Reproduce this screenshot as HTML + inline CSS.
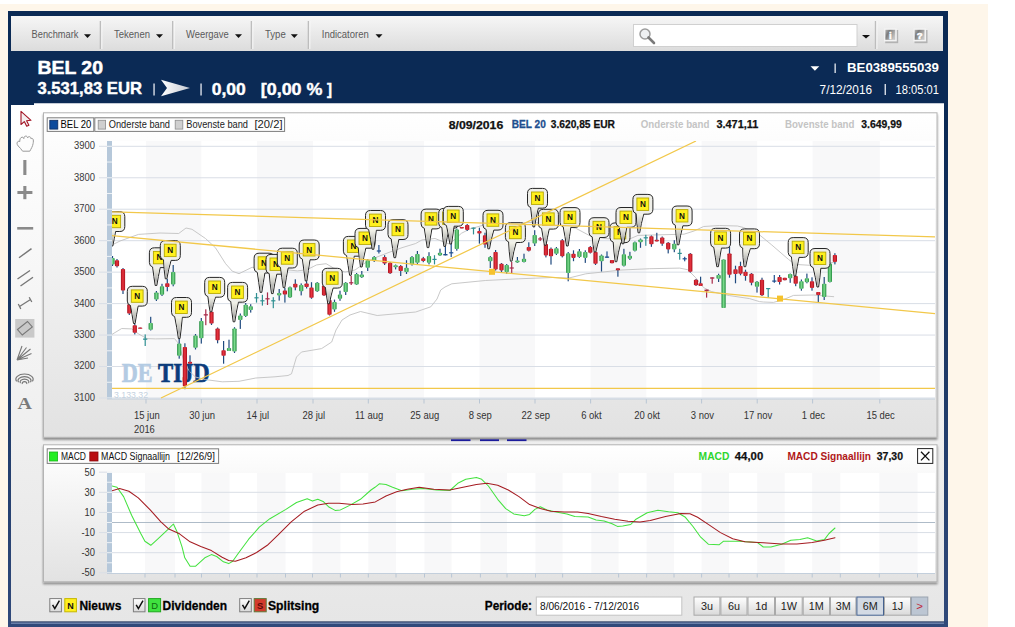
<!DOCTYPE html>
<html><head><meta charset="utf-8"><title>BEL 20</title>
<style>
html,body{margin:0;padding:0;background:#fff;overflow:hidden;}
body{width:1015px;height:627px;font-family:"Liberation Sans",sans-serif;}
svg{display:block;position:absolute;left:0;top:0;}
</style></head><body>
<svg width="1015" height="627" viewBox="0 0 1015 627">
<defs>
<linearGradient id="frame" x1="0" y1="0" x2="0" y2="1"><stop offset="0" stop-color="#0b2a55"/><stop offset="0.18" stop-color="#0b2a55"/><stop offset="1" stop-color="#30497a"/></linearGradient>
<linearGradient id="tb" x1="0" y1="0" x2="0" y2="1"><stop offset="0" stop-color="#f6f6f6"/><stop offset="1" stop-color="#dcdcdc"/></linearGradient>
<linearGradient id="outer" x1="0" y1="0" x2="0" y2="1"><stop offset="0" stop-color="#ffffff"/><stop offset="1" stop-color="#e6e6e6"/></linearGradient>
<linearGradient id="panel" x1="0" y1="0" x2="0" y2="1"><stop offset="0" stop-color="#ffffff"/><stop offset="0.15" stop-color="#fbfbfb"/><stop offset="1" stop-color="#e2e2e2"/></linearGradient>
<linearGradient id="gr" x1="0" y1="0" x2="1" y2="0"><stop offset="0" stop-color="#1f8a3c"/><stop offset="0.5" stop-color="#7ddc8e"/><stop offset="1" stop-color="#1f8a3c"/></linearGradient>
<linearGradient id="rd" x1="0" y1="0" x2="1" y2="0"><stop offset="0" stop-color="#a80f1c"/><stop offset="0.5" stop-color="#e8343f"/><stop offset="1" stop-color="#a80f1c"/></linearGradient>
<linearGradient id="btn" x1="0" y1="0" x2="0" y2="1"><stop offset="0" stop-color="#ffffff"/><stop offset="1" stop-color="#d9d9d9"/></linearGradient>
<linearGradient id="tail" x1="0" y1="0" x2="0" y2="1"><stop offset="0" stop-color="#f4f4ea"/><stop offset="1" stop-color="#9a9a9a"/></linearGradient>
<linearGradient id="ibtn" x1="0" y1="0" x2="1" y2="0.6"><stop offset="0" stop-color="#b4b4b4"/><stop offset="0.35" stop-color="#7c7c7c"/><stop offset="1" stop-color="#c6c6c6"/></linearGradient>
<linearGradient id="arrow" x1="0" y1="0" x2="1" y2="0"><stop offset="0" stop-color="#ffffff"/><stop offset="1" stop-color="#c8ccd4"/></linearGradient>
<clipPath id="plotclip"><rect x="112" y="141" width="823" height="258"/></clipPath>
<clipPath id="macdclip"><rect x="112" y="473" width="823" height="100"/></clipPath>
<filter id="sh" x="-5%" y="-5%" width="110%" height="115%"><feGaussianBlur in="SourceAlpha" stdDeviation="1.0"/><feOffset dx="0.3" dy="1.8"/><feComponentTransfer><feFuncA type="linear" slope="0.42"/></feComponentTransfer><feMerge><feMergeNode/><feMergeNode in="SourceGraphic"/></feMerge></filter>
</defs>

<rect x="0" y="0" width="1015" height="627" fill="#ffffff"/>
<rect x="0" y="4" width="988" height="623" fill="#fef6ea"/>
<rect x="8" y="11" width="940" height="616" fill="url(#frame)"/>
<rect x="11" y="16" width="932" height="35" fill="url(#tb)"/>
<rect x="99.7" y="21" width="1.6" height="28" fill="#bdbdbd"/>
<rect x="101.3" y="21" width="1" height="28" fill="#fafafa"/>
<rect x="172.0" y="21" width="1.6" height="28" fill="#bdbdbd"/>
<rect x="173.6" y="21" width="1" height="28" fill="#fafafa"/>
<rect x="250.7" y="21" width="1.6" height="28" fill="#bdbdbd"/>
<rect x="252.3" y="21" width="1" height="28" fill="#fafafa"/>
<rect x="307.7" y="21" width="1.6" height="28" fill="#bdbdbd"/>
<rect x="309.3" y="21" width="1" height="28" fill="#fafafa"/>
<rect x="874.8" y="21" width="1.6" height="28" fill="#bdbdbd"/>
<rect x="876.4" y="21" width="1" height="28" fill="#fafafa"/>
<text x="31.60" y="38.00" font-size="10.8" fill="#5a5a5a" font-weight="normal" text-anchor="start" style="font-family:'Liberation Sans',sans-serif" textLength="46.80" lengthAdjust="spacingAndGlyphs" >Benchmark</text>
<path d="M84.0,34.3 h7 l-3.5,3.6 z" fill="#111"/>
<text x="114.00" y="38.00" font-size="10.8" fill="#5a5a5a" font-weight="normal" text-anchor="start" style="font-family:'Liberation Sans',sans-serif" textLength="36.00" lengthAdjust="spacingAndGlyphs" >Tekenen</text>
<path d="M156.0,34.3 h7 l-3.5,3.6 z" fill="#111"/>
<text x="186.00" y="38.00" font-size="10.8" fill="#5a5a5a" font-weight="normal" text-anchor="start" style="font-family:'Liberation Sans',sans-serif" textLength="42.75" lengthAdjust="spacingAndGlyphs" >Weergave</text>
<path d="M235.0,34.3 h7 l-3.5,3.6 z" fill="#111"/>
<text x="265.00" y="38.00" font-size="10.8" fill="#5a5a5a" font-weight="normal" text-anchor="start" style="font-family:'Liberation Sans',sans-serif" textLength="20.75" lengthAdjust="spacingAndGlyphs" >Type</text>
<path d="M290.8,34.3 h7 l-3.5,3.6 z" fill="#111"/>
<text x="321.75" y="38.00" font-size="10.8" fill="#5a5a5a" font-weight="normal" text-anchor="start" style="font-family:'Liberation Sans',sans-serif" textLength="47.00" lengthAdjust="spacingAndGlyphs" >Indicatoren</text>
<path d="M375.5,34.3 h7 l-3.5,3.6 z" fill="#111"/>
<rect x="633.5" y="24.5" width="223.5" height="22" fill="#ffffff" stroke="#d0d0d0" stroke-width="1"/>
<g transform="translate(639,28)"><circle cx="6" cy="6" r="5" fill="#eef0f2" stroke="#9c9c9c" stroke-width="1.5"/><path d="M9.5,9.5 L15,15" stroke="#7a7a7a" stroke-width="2.6" stroke-linecap="round"/></g>
<path d="M862,35 h8 l-4,3.6 z" fill="#111"/>
<rect x="885.2" y="30" width="13" height="13.2" fill="#b2b2b2"/>
<rect x="884" y="28.4" width="12.8" height="13" fill="#f3f3f3"/>
<rect x="885.4" y="29.8" width="9.8" height="10" fill="url(#ibtn)"/>
<text x="890.40" y="38.90" font-size="9.6" fill="#ffffff" font-weight="bold" text-anchor="middle" style="font-family:'Liberation Sans',sans-serif" stroke="#fff" stroke-width="0.5">i</text>
<rect x="914.5" y="30" width="13" height="13.2" fill="#b2b2b2"/>
<rect x="913.3" y="28.4" width="12.8" height="13" fill="#f3f3f3"/>
<rect x="914.6999999999999" y="29.8" width="9.8" height="10" fill="url(#ibtn)"/>
<text x="919.70" y="38.90" font-size="9.6" fill="#ffffff" font-weight="bold" text-anchor="middle" style="font-family:'Liberation Sans',sans-serif" stroke="#fff" stroke-width="0.5">?</text>
<text x="37.40" y="74.40" font-size="18.3" fill="#ffffff" font-weight="bold" text-anchor="start" style="font-family:'Liberation Sans',sans-serif" textLength="65.60" lengthAdjust="spacingAndGlyphs" stroke="#fff" stroke-width="0.5">BEL 20</text>
<text x="37.40" y="94.40" font-size="15.7" fill="#ffffff" font-weight="bold" text-anchor="start" style="font-family:'Liberation Sans',sans-serif" textLength="104.60" lengthAdjust="spacingAndGlyphs" stroke="#fff" stroke-width="0.4">3.531,83 EUR</text>
<rect x="153.4" y="83.5" width="1.3" height="12" fill="#e8ecf2"/>
<path d="M161,79.8 L190,88 L161,96.2 L167,88 Z" fill="url(#arrow)"/>
<rect x="200.4" y="83.5" width="1.3" height="12" fill="#e8ecf2"/>
<text x="211.75" y="94.60" font-size="15.7" fill="#ffffff" font-weight="bold" text-anchor="start" style="font-family:'Liberation Sans',sans-serif" textLength="34.00" lengthAdjust="spacingAndGlyphs" stroke="#fff" stroke-width="0.4">0,00</text>
<text x="260.75" y="94.60" font-size="15.7" fill="#ffffff" font-weight="bold" text-anchor="start" style="font-family:'Liberation Sans',sans-serif" textLength="61.75" lengthAdjust="spacingAndGlyphs" stroke="#fff" stroke-width="0.4">[0,00 %</text>
<text x="327.00" y="94.60" font-size="15.7" fill="#ffffff" font-weight="bold" text-anchor="start" style="font-family:'Liberation Sans',sans-serif" textLength="5.00" lengthAdjust="spacingAndGlyphs" stroke="#fff" stroke-width="0.4">]</text>
<path d="M810.5,66.3 h8.8 l-4.4,4.4 z" fill="#ffffff"/>
<rect x="834.5" y="63.5" width="1.3" height="9.5" fill="#e8ecf2"/>
<text x="847.00" y="72.20" font-size="12" fill="#ffffff" font-weight="bold" text-anchor="start" style="font-family:'Liberation Sans',sans-serif" textLength="92.00" lengthAdjust="spacingAndGlyphs" >BE0389555039</text>
<text x="819.60" y="93.60" font-size="12.4" fill="#ffffff" font-weight="normal" text-anchor="start" style="font-family:'Liberation Sans',sans-serif" textLength="52.40" lengthAdjust="spacingAndGlyphs" >7/12/2016</text>
<rect x="884.6" y="84" width="1.3" height="11" fill="#e8ecf2"/>
<text x="895.60" y="93.60" font-size="12.4" fill="#ffffff" font-weight="normal" text-anchor="start" style="font-family:'Liberation Sans',sans-serif" textLength="43.40" lengthAdjust="spacingAndGlyphs" >18:05:01</text>
<path d="M11,105 H34 V103.3 H944 V622 H11 Z" fill="url(#outer)"/>
<rect x="11" y="621.4" width="933" height="1.2" fill="#1b2f57"/>
<rect x="11" y="622.6" width="933" height="1" fill="#8fa3c8"/>
<path d="M21,111.3 L21,124.5 L24.3,121.6 L26.7,126.3 L28.9,125.2 L26.6,120.7 L31,120.3 Z" fill="#f4f0f0" stroke="#a31525" stroke-width="1.1" stroke-linejoin="round"/>
<path d="M17,143.2 C17,141.6 18.8,140.6 19.8,141.6 C19.6,139.4 20.4,137.4 22,137.2 C23,137.1 23.6,137.8 23.8,138.6 C23.9,137 24.6,136.1 25.8,136.1 C26.9,136.1 27.5,136.9 27.6,138 C27.9,137 28.7,136.5 29.6,136.7 C30.6,136.9 31,137.8 31,138.9 C31.5,138.3 32.4,138.3 32.9,138.9 C33.6,139.8 33.4,142 33.1,143.6 C32.6,146.4 31.2,148.6 29.8,151.2 L22.6,151.2 C21.4,149 19.6,147.6 18.2,146 C17.4,145 17,144.2 17,143.2 Z" fill="#fdfdfd" stroke="#9a9a9a" stroke-width="1" stroke-linejoin="round"/>
<rect x="23.3" y="160" width="3.1" height="15" fill="#8a8a8a"/>
<rect x="17.4" y="191" width="15" height="3" fill="#8a8a8a"/><rect x="23.3" y="186" width="3.1" height="13.2" fill="#8a8a8a"/>
<rect x="17.2" y="227" width="16" height="2.6" fill="#8a8a8a"/>
<path d="M19,257.8 L31.5,248.6" stroke="#777" stroke-width="1.4"/>
<path d="M17.5,279 L30,270.5 M20.5,286 L33,277.2" stroke="#777" stroke-width="1.4"/>
<path d="M19.5,306.5 L30.5,299.5 M18.3,304 L20.8,309 M29.2,297.2 L31.8,302" stroke="#777" stroke-width="1.3"/>
<rect x="15.2" y="319" width="19.2" height="18.6" fill="#c9c9c9"/>
<path d="M17.5,329.5 L27.5,321.5 L32.3,327 L22.3,335 Z" fill="none" stroke="#777" stroke-width="1.1"/>
<path d="M17,360 L22,346 M17,360 L26.5,347.5 M17,360 L30.5,349 M17,360 L31.5,353.5 M17,360 L28,358" stroke="#777" stroke-width="1.1"/>
<path d="M16.6,381.3 A8.6,5.2 0 1 1 32.4,381.3" fill="none" stroke="#777" stroke-width="1.15"/>
<path d="M18.5,382.2 A6.5,4.0 0 1 1 30.5,382.2" fill="none" stroke="#777" stroke-width="1.15"/>
<path d="M20.5,383.2 A4.4,2.9 0 1 1 28.5,383.2" fill="none" stroke="#777" stroke-width="1.15"/>
<path d="M22.4,384.0 A2.3,1.7 0 1 1 26.6,384.0" fill="none" stroke="#777" stroke-width="1.15"/>
<text x="17.60" y="408.80" font-size="17.6" fill="#7a7a7a" font-weight="bold" text-anchor="start" style="font-family:'Liberation Serif',sans-serif" textLength="14.40" lengthAdjust="spacingAndGlyphs" >A</text>
<g filter="url(#sh)"><rect x="43.5" y="112.8" width="893.5" height="324.5" fill="url(#panel)" stroke="#b4b4b4" stroke-width="1"/></g>
<rect x="112" y="141" width="823" height="258" fill="#ffffff"/>
<rect x="146" y="141" width="55.3" height="258" fill="#f8f8f9"/>
<rect x="257" y="141" width="56.0" height="258" fill="#f8f8f9"/>
<rect x="368.3" y="141" width="55.7" height="258" fill="#f8f8f9"/>
<rect x="479.5" y="141" width="55.5" height="258" fill="#f8f8f9"/>
<rect x="590.6" y="141" width="55.7" height="258" fill="#f8f8f9"/>
<rect x="701.6" y="141" width="55.6" height="258" fill="#f8f8f9"/>
<rect x="812.6" y="141" width="67.2" height="258" fill="#f8f8f9"/>
<rect x="99" y="397.48" width="836" height="1" fill="#d9dee6"/>
<rect x="99" y="366.02" width="836" height="1" fill="#d9dee6"/>
<rect x="99" y="334.56" width="836" height="1" fill="#d9dee6"/>
<rect x="99" y="303.10" width="836" height="1" fill="#d9dee6"/>
<rect x="99" y="271.64" width="836" height="1" fill="#d9dee6"/>
<rect x="99" y="240.18" width="836" height="1" fill="#d9dee6"/>
<rect x="99" y="208.72" width="836" height="1" fill="#d9dee6"/>
<rect x="99" y="177.26" width="836" height="1" fill="#d9dee6"/>
<rect x="99" y="145.80" width="836" height="1" fill="#d9dee6"/>
<rect x="107" y="141" width="5" height="258" fill="#b6c8da"/>
<rect x="107" y="397.48" width="5" height="1" fill="#eef2f6"/>
<rect x="107" y="381.75" width="5" height="1" fill="#eef2f6"/>
<rect x="107" y="366.02" width="5" height="1" fill="#eef2f6"/>
<rect x="107" y="350.29" width="5" height="1" fill="#eef2f6"/>
<rect x="107" y="334.56" width="5" height="1" fill="#eef2f6"/>
<rect x="107" y="318.83" width="5" height="1" fill="#eef2f6"/>
<rect x="107" y="303.10" width="5" height="1" fill="#eef2f6"/>
<rect x="107" y="287.37" width="5" height="1" fill="#eef2f6"/>
<rect x="107" y="271.64" width="5" height="1" fill="#eef2f6"/>
<rect x="107" y="255.91" width="5" height="1" fill="#eef2f6"/>
<rect x="107" y="240.18" width="5" height="1" fill="#eef2f6"/>
<rect x="107" y="224.45" width="5" height="1" fill="#eef2f6"/>
<rect x="107" y="208.72" width="5" height="1" fill="#eef2f6"/>
<rect x="107" y="192.99" width="5" height="1" fill="#eef2f6"/>
<rect x="107" y="177.26" width="5" height="1" fill="#eef2f6"/>
<rect x="107" y="161.53" width="5" height="1" fill="#eef2f6"/>
<rect x="107" y="145.80" width="5" height="1" fill="#eef2f6"/>
<rect x="107" y="398.5" width="828" height="1" fill="#c3cfdc"/>
<rect x="145.5" y="399" width="1" height="4.5" fill="#b9c6d4"/>
<text x="0.00" y="0.00" font-size="10.7" fill="#333" font-weight="normal" text-anchor="middle" style="font-family:'Liberation Sans',sans-serif"  transform="translate(146.80,418.60) scale(0.885,1)">15 jun</text>
<rect x="200.8" y="399" width="1" height="4.5" fill="#b9c6d4"/>
<text x="0.00" y="0.00" font-size="10.7" fill="#333" font-weight="normal" text-anchor="middle" style="font-family:'Liberation Sans',sans-serif"  transform="translate(202.10,418.60) scale(0.885,1)">30 jun</text>
<rect x="256.5" y="399" width="1" height="4.5" fill="#b9c6d4"/>
<text x="0.00" y="0.00" font-size="10.7" fill="#333" font-weight="normal" text-anchor="middle" style="font-family:'Liberation Sans',sans-serif"  transform="translate(257.80,418.60) scale(0.885,1)">14 jul</text>
<rect x="312.5" y="399" width="1" height="4.5" fill="#b9c6d4"/>
<text x="0.00" y="0.00" font-size="10.7" fill="#333" font-weight="normal" text-anchor="middle" style="font-family:'Liberation Sans',sans-serif"  transform="translate(313.80,418.60) scale(0.885,1)">28 jul</text>
<rect x="367.8" y="399" width="1" height="4.5" fill="#b9c6d4"/>
<text x="0.00" y="0.00" font-size="10.7" fill="#333" font-weight="normal" text-anchor="middle" style="font-family:'Liberation Sans',sans-serif"  transform="translate(369.10,418.60) scale(0.885,1)">11 aug</text>
<rect x="423.5" y="399" width="1" height="4.5" fill="#b9c6d4"/>
<text x="0.00" y="0.00" font-size="10.7" fill="#333" font-weight="normal" text-anchor="middle" style="font-family:'Liberation Sans',sans-serif"  transform="translate(424.80,418.60) scale(0.885,1)">25 aug</text>
<rect x="479.0" y="399" width="1" height="4.5" fill="#b9c6d4"/>
<text x="0.00" y="0.00" font-size="10.7" fill="#333" font-weight="normal" text-anchor="middle" style="font-family:'Liberation Sans',sans-serif"  transform="translate(480.30,418.60) scale(0.885,1)">8 sep</text>
<rect x="534.5" y="399" width="1" height="4.5" fill="#b9c6d4"/>
<text x="0.00" y="0.00" font-size="10.7" fill="#333" font-weight="normal" text-anchor="middle" style="font-family:'Liberation Sans',sans-serif"  transform="translate(535.80,418.60) scale(0.885,1)">22 sep</text>
<rect x="590.1" y="399" width="1" height="4.5" fill="#b9c6d4"/>
<text x="0.00" y="0.00" font-size="10.7" fill="#333" font-weight="normal" text-anchor="middle" style="font-family:'Liberation Sans',sans-serif"  transform="translate(591.40,418.60) scale(0.885,1)">6 okt</text>
<rect x="645.8" y="399" width="1" height="4.5" fill="#b9c6d4"/>
<text x="0.00" y="0.00" font-size="10.7" fill="#333" font-weight="normal" text-anchor="middle" style="font-family:'Liberation Sans',sans-serif"  transform="translate(647.10,418.60) scale(0.885,1)">20 okt</text>
<rect x="701.1" y="399" width="1" height="4.5" fill="#b9c6d4"/>
<text x="0.00" y="0.00" font-size="10.7" fill="#333" font-weight="normal" text-anchor="middle" style="font-family:'Liberation Sans',sans-serif"  transform="translate(702.40,418.60) scale(0.885,1)">3 nov</text>
<rect x="756.7" y="399" width="1" height="4.5" fill="#b9c6d4"/>
<text x="0.00" y="0.00" font-size="10.7" fill="#333" font-weight="normal" text-anchor="middle" style="font-family:'Liberation Sans',sans-serif"  transform="translate(758.00,418.60) scale(0.885,1)">17 nov</text>
<rect x="812.1" y="399" width="1" height="4.5" fill="#b9c6d4"/>
<text x="0.00" y="0.00" font-size="10.7" fill="#333" font-weight="normal" text-anchor="middle" style="font-family:'Liberation Sans',sans-serif"  transform="translate(813.40,418.60) scale(0.885,1)">1 dec</text>
<rect x="879.3" y="399" width="1" height="4.5" fill="#b9c6d4"/>
<text x="0.00" y="0.00" font-size="10.7" fill="#333" font-weight="normal" text-anchor="middle" style="font-family:'Liberation Sans',sans-serif"  transform="translate(880.60,418.60) scale(0.885,1)">15 dec</text>
<text x="134.00" y="432.60" font-size="10.4" fill="#333" font-weight="normal" text-anchor="start" style="font-family:'Liberation Sans',sans-serif" textLength="20.80" lengthAdjust="spacingAndGlyphs" >2016</text>
<text x="74.00" y="400.88" font-size="10.1" fill="#3a3a3a" font-weight="normal" text-anchor="start" style="font-family:'Liberation Sans',sans-serif" textLength="21.00" lengthAdjust="spacingAndGlyphs" >3100</text>
<text x="74.00" y="369.42" font-size="10.1" fill="#3a3a3a" font-weight="normal" text-anchor="start" style="font-family:'Liberation Sans',sans-serif" textLength="21.00" lengthAdjust="spacingAndGlyphs" >3200</text>
<text x="74.00" y="337.96" font-size="10.1" fill="#3a3a3a" font-weight="normal" text-anchor="start" style="font-family:'Liberation Sans',sans-serif" textLength="21.00" lengthAdjust="spacingAndGlyphs" >3300</text>
<text x="74.00" y="306.50" font-size="10.1" fill="#3a3a3a" font-weight="normal" text-anchor="start" style="font-family:'Liberation Sans',sans-serif" textLength="21.00" lengthAdjust="spacingAndGlyphs" >3400</text>
<text x="74.00" y="275.04" font-size="10.1" fill="#3a3a3a" font-weight="normal" text-anchor="start" style="font-family:'Liberation Sans',sans-serif" textLength="21.00" lengthAdjust="spacingAndGlyphs" >3500</text>
<text x="74.00" y="243.58" font-size="10.1" fill="#3a3a3a" font-weight="normal" text-anchor="start" style="font-family:'Liberation Sans',sans-serif" textLength="21.00" lengthAdjust="spacingAndGlyphs" >3600</text>
<text x="74.00" y="212.12" font-size="10.1" fill="#3a3a3a" font-weight="normal" text-anchor="start" style="font-family:'Liberation Sans',sans-serif" textLength="21.00" lengthAdjust="spacingAndGlyphs" >3700</text>
<text x="74.00" y="180.66" font-size="10.1" fill="#3a3a3a" font-weight="normal" text-anchor="start" style="font-family:'Liberation Sans',sans-serif" textLength="21.00" lengthAdjust="spacingAndGlyphs" >3800</text>
<text x="74.00" y="149.20" font-size="10.1" fill="#3a3a3a" font-weight="normal" text-anchor="start" style="font-family:'Liberation Sans',sans-serif" textLength="21.00" lengthAdjust="spacingAndGlyphs" >3900</text>
<rect x="47.2" y="117.8" width="46.6" height="13.6" fill="#fdfdfd" stroke="#7d7d7d" stroke-width="1"/>
<rect x="94.8" y="117.8" width="189.8" height="13.6" fill="#fdfdfd" stroke="#7d7d7d" stroke-width="1"/>
<rect x="49.8" y="120.3" width="8" height="8.8" fill="#0d4a9c" stroke="#0a2a60" stroke-width="0.8"/>
<rect x="98.2" y="120.3" width="7.4" height="8.8" fill="#cfcfcf" stroke="#8d8d8d" stroke-width="0.8"/>
<rect x="175.2" y="120.3" width="7.6" height="8.8" fill="#cfcfcf" stroke="#8d8d8d" stroke-width="0.8"/>
<text x="60.50" y="128.40" font-size="10.4" fill="#000" font-weight="normal" text-anchor="start" style="font-family:'Liberation Sans',sans-serif" textLength="30.75" lengthAdjust="spacingAndGlyphs" >BEL 20</text>
<text x="108.75" y="128.40" font-size="10.4" fill="#222" font-weight="normal" text-anchor="start" style="font-family:'Liberation Sans',sans-serif" textLength="61.25" lengthAdjust="spacingAndGlyphs" >Onderste band</text>
<text x="186.25" y="128.40" font-size="10.4" fill="#222" font-weight="normal" text-anchor="start" style="font-family:'Liberation Sans',sans-serif" textLength="61.75" lengthAdjust="spacingAndGlyphs" >Bovenste band</text>
<text x="254.50" y="128.40" font-size="10.4" fill="#222" font-weight="normal" text-anchor="start" style="font-family:'Liberation Sans',sans-serif" textLength="28.00" lengthAdjust="spacingAndGlyphs" >[20/2]</text>
<text x="448.75" y="129.20" font-size="11" fill="#111" font-weight="bold" text-anchor="start" style="font-family:'Liberation Sans',sans-serif" textLength="54.50" lengthAdjust="spacingAndGlyphs" stroke="#111" stroke-width="0.25">8/09/2016</text>
<text x="511.75" y="128.20" font-size="11" fill="#1d4f8f" font-weight="bold" text-anchor="start" style="font-family:'Liberation Sans',sans-serif" textLength="34.00" lengthAdjust="spacingAndGlyphs" stroke="#1d4f8f" stroke-width="0.3">BEL 20</text>
<text x="550.75" y="128.20" font-size="11" fill="#111" font-weight="bold" text-anchor="start" style="font-family:'Liberation Sans',sans-serif" textLength="64.25" lengthAdjust="spacingAndGlyphs" stroke="#111" stroke-width="0.25">3.620,85 EUR</text>
<text x="640.70" y="128.20" font-size="11" fill="#c4c4c4" font-weight="bold" text-anchor="start" style="font-family:'Liberation Sans',sans-serif" textLength="68.70" lengthAdjust="spacingAndGlyphs" >Onderste band</text>
<text x="716.40" y="128.20" font-size="11" fill="#111" font-weight="bold" text-anchor="start" style="font-family:'Liberation Sans',sans-serif" textLength="41.90" lengthAdjust="spacingAndGlyphs" stroke="#111" stroke-width="0.25">3.471,11</text>
<text x="784.90" y="128.20" font-size="11" fill="#c4c4c4" font-weight="bold" text-anchor="start" style="font-family:'Liberation Sans',sans-serif" textLength="69.60" lengthAdjust="spacingAndGlyphs" >Bovenste band</text>
<text x="861.20" y="128.20" font-size="11" fill="#111" font-weight="bold" text-anchor="start" style="font-family:'Liberation Sans',sans-serif" textLength="40.60" lengthAdjust="spacingAndGlyphs" stroke="#111" stroke-width="0.25">3.649,99</text>
<g clip-path="url(#plotclip)">
<text x="121.70" y="381.80" font-size="28" fill="#b3cbe3" font-weight="bold" text-anchor="start" style="font-family:'Liberation Serif',sans-serif" textLength="30.80" lengthAdjust="spacingAndGlyphs" stroke="#b3cbe3" stroke-width="0.7">DE</text>
<text x="158.00" y="381.80" font-size="28" fill="#0b3c7c" font-weight="bold" text-anchor="start" style="font-family:'Liberation Serif',sans-serif" textLength="51.70" lengthAdjust="spacingAndGlyphs" stroke="#0b3c7c" stroke-width="0.7">TIJD</text>
<text x="114.00" y="397.60" font-size="9.5" fill="#c5d2e0" font-weight="normal" text-anchor="start" style="font-family:'Liberation Sans',sans-serif" textLength="34.00" lengthAdjust="spacingAndGlyphs" >3.133,32</text>
<polyline points="112.0,245.0 120.0,241.0 138.5,234.4 160.0,233.0 178.7,233.5 186.0,228.0 192.0,229.3 205.5,238.5 215.5,247.8 225.6,263.7 232.3,271.2 239.0,273.7 252.0,267.3 270.0,268.0 297.4,270.9 307.0,269.7 316.6,264.9 326.1,263.7 333.3,267.9 345.0,272.0 355.0,270.0 365.0,263.0 377.0,257.0 390.0,252.0 402.0,247.7 415.7,243.5 422.0,239.9 435.0,238.5 445.9,242.8 449.5,244.0 461.4,233.3 469.8,229.0 482.0,225.5 500.0,224.0 530.0,222.5 550.0,223.5 575.7,228.2 589.0,235.3 605.0,238.6 610.0,238.8 630.0,238.8 638.0,235.4 660.0,234.8 684.0,234.2 694.0,231.0 703.6,226.5 719.6,225.5 737.5,226.0 743.5,227.5 759.4,234.8 771.8,245.0 788.5,259.4 795.0,264.4 810.0,265.3 836.0,262.0" fill="none" stroke="#c2c2c2" stroke-width="0.9" stroke-linejoin="round" stroke-linecap="round" />
<polyline points="112.0,334.4 121.7,328.5 131.8,328.9 138.5,333.9 146.9,338.6 155.3,338.9 174.5,338.6 178.7,343.6 183.7,360.3 188.7,370.4 195.4,377.0 205.5,379.6 222.2,381.8 239.0,381.3 255.8,378.0 275.0,376.8 288.0,375.5 291.5,373.8 296.5,357.0 301.5,352.0 321.6,348.6 331.7,342.0 336.0,330.0 342.0,320.0 350.0,315.0 360.5,311.5 377.2,315.5 415.7,312.0 430.8,306.8 437.0,299.0 440.7,290.0 445.0,287.0 451.8,283.8 485.3,280.5 518.8,278.8 552.3,277.5 569.0,278.0 585.8,273.8 605.0,271.8 620.0,270.1 649.8,268.7 679.7,268.1 687.7,269.7 695.7,277.7 703.6,287.6 711.6,291.6 729.5,295.6 749.5,298.6 759.4,301.6 763.4,302.0 773.4,302.4 783.5,299.6 793.5,295.4 813.6,295.0 833.7,296.7" fill="none" stroke="#c2c2c2" stroke-width="0.9" stroke-linejoin="round" stroke-linecap="round" />
<rect x="111.9" y="256.0" width="1.2" height="10.0" fill="#1f4a7f"/>
<rect x="110.4" y="258.0" width="4.2" height="6.5" rx="0.8" fill="url(#gr)"/>
<rect x="116.4" y="259.0" width="1.2" height="8.5" fill="#1f4a7f"/>
<rect x="114.9" y="260.3" width="4.2" height="5.9" rx="0.8" fill="url(#rd)"/>
<rect x="122.4" y="268.0" width="1.2" height="26.0" fill="#1f4a7f"/>
<rect x="120.9" y="269.0" width="4.2" height="21.5" rx="0.8" fill="url(#rd)"/>
<rect x="128.7" y="303.0" width="1.2" height="12.0" fill="#1f4a7f"/>
<rect x="127.2" y="304.2" width="4.2" height="9.3" rx="0.8" fill="url(#rd)"/>
<rect x="134.2" y="323.5" width="1.2" height="10.9" fill="#1f4a7f"/>
<rect x="132.7" y="325.2" width="4.2" height="7.5" rx="0.8" fill="url(#rd)"/>
<rect x="139.6" y="327.5" width="1.2" height="1.3" fill="#1f4a7f"/>
<rect x="138.1" y="327.5" width="4.2" height="1.3" rx="0.8" fill="url(#rd)"/>
<rect x="144.6" y="334.4" width="1.2" height="11.6" fill="#2f8f92"/>
<rect x="143.1" y="338.5" width="4.2" height="1.3" fill="#2f8f92"/>
<rect x="150.1" y="316.8" width="1.2" height="13.7" fill="#1f4a7f"/>
<rect x="148.6" y="323.0" width="4.2" height="6.7" rx="0.8" fill="url(#gr)"/>
<rect x="155.8" y="291.0" width="1.2" height="10.0" fill="#1f4a7f"/>
<rect x="154.3" y="292.5" width="4.2" height="7.0" rx="0.8" fill="url(#gr)"/>
<rect x="161.4" y="283.8" width="1.2" height="12.2" fill="#1f4a7f"/>
<rect x="159.9" y="286.3" width="4.2" height="8.4" rx="0.8" fill="url(#gr)"/>
<rect x="166.7" y="278.8" width="1.2" height="12.5" fill="#1f4a7f"/>
<rect x="165.2" y="283.3" width="4.2" height="3.7" rx="0.8" fill="url(#rd)"/>
<rect x="172.6" y="265.0" width="1.2" height="21.3" fill="#1f4a7f"/>
<rect x="171.1" y="272.0" width="4.2" height="12.6" rx="0.8" fill="url(#gr)"/>
<rect x="178.6" y="338.6" width="1.2" height="20.1" fill="#1f4a7f"/>
<rect x="177.1" y="343.6" width="4.2" height="12.1" rx="0.8" fill="url(#gr)"/>
<rect x="184.3" y="343.3" width="1.2" height="45.9" fill="#1f4a7f"/>
<rect x="182.8" y="347.0" width="4.2" height="39.3" rx="0.8" fill="url(#rd)"/>
<rect x="189.4" y="355.3" width="1.2" height="16.7" fill="#1f4a7f"/>
<rect x="187.9" y="361.7" width="4.2" height="2.0" rx="0.8" fill="url(#rd)"/>
<rect x="194.9" y="334.0" width="1.2" height="15.5" fill="#1f4a7f"/>
<rect x="193.4" y="335.6" width="4.2" height="12.2" rx="0.8" fill="url(#gr)"/>
<rect x="200.7" y="318.0" width="1.2" height="25.6" fill="#1f4a7f"/>
<rect x="199.2" y="321.0" width="4.2" height="17.2" rx="0.8" fill="url(#gr)"/>
<rect x="205.2" y="309.3" width="1.2" height="15.9" fill="#a82a4a"/>
<rect x="203.7" y="314.2" width="4.2" height="1.3" fill="#a82a4a"/>
<rect x="210.9" y="310.5" width="1.2" height="14.5" fill="#1f4a7f"/>
<rect x="209.4" y="311.8" width="4.2" height="11.7" rx="0.8" fill="url(#rd)"/>
<rect x="217.0" y="327.5" width="1.2" height="15.8" fill="#1f4a7f"/>
<rect x="215.5" y="328.5" width="4.2" height="11.8" rx="0.8" fill="url(#rd)"/>
<rect x="223.0" y="341.0" width="1.2" height="22.7" fill="#1f4a7f"/>
<rect x="221.5" y="350.3" width="4.2" height="5.5" rx="0.8" fill="url(#rd)"/>
<rect x="228.4" y="339.7" width="1.2" height="11.3" fill="#1f4a7f"/>
<rect x="226.9" y="348.0" width="4.2" height="3.0" rx="0.8" fill="url(#gr)"/>
<rect x="233.9" y="327.2" width="1.2" height="25.8" fill="#1f4a7f"/>
<rect x="232.4" y="328.5" width="4.2" height="23.1" rx="0.8" fill="url(#gr)"/>
<rect x="239.7" y="313.5" width="1.2" height="15.4" fill="#1f4a7f"/>
<rect x="238.2" y="315.5" width="4.2" height="4.5" rx="0.8" fill="url(#gr)"/>
<rect x="245.1" y="303.0" width="1.2" height="14.0" fill="#1f4a7f"/>
<rect x="243.6" y="304.7" width="4.2" height="11.3" rx="0.8" fill="url(#gr)"/>
<rect x="250.1" y="304.2" width="1.2" height="8.4" fill="#1f4a7f"/>
<rect x="248.6" y="306.2" width="4.2" height="3.8" rx="0.8" fill="url(#gr)"/>
<rect x="255.9" y="293.0" width="1.2" height="9.6" fill="#2f8f92"/>
<rect x="254.4" y="297.2" width="4.2" height="1.2" fill="#2f8f92"/>
<rect x="261.8" y="294.8" width="1.2" height="10.8" fill="#2f8f92"/>
<rect x="260.3" y="300.2" width="4.2" height="1.2" fill="#2f8f92"/>
<rect x="266.9" y="292.4" width="1.2" height="12.6" fill="#a82a4a"/>
<rect x="265.4" y="298.2" width="4.2" height="1.2" fill="#a82a4a"/>
<rect x="272.7" y="297.2" width="1.2" height="11.0" fill="#2f8f92"/>
<rect x="271.2" y="300.2" width="4.2" height="1.2" fill="#2f8f92"/>
<rect x="278.6" y="289.0" width="1.2" height="11.6" fill="#1f4a7f"/>
<rect x="277.1" y="293.0" width="4.2" height="2.4" rx="0.8" fill="url(#gr)"/>
<rect x="284.3" y="288.0" width="1.2" height="14.6" fill="#1f4a7f"/>
<rect x="282.8" y="290.6" width="4.2" height="4.0" rx="0.8" fill="url(#rd)"/>
<rect x="289.4" y="286.5" width="1.2" height="11.5" fill="#1f4a7f"/>
<rect x="287.9" y="287.3" width="4.2" height="10.1" rx="0.8" fill="url(#gr)"/>
<rect x="294.7" y="279.3" width="1.2" height="11.0" fill="#1f4a7f"/>
<rect x="293.2" y="283.8" width="4.2" height="3.8" rx="0.8" fill="url(#rd)"/>
<rect x="300.6" y="283.4" width="1.2" height="12.0" fill="#1f4a7f"/>
<rect x="299.1" y="285.0" width="4.2" height="6.2" rx="0.8" fill="url(#gr)"/>
<rect x="306.0" y="281.2" width="1.2" height="7.3" fill="#1f4a7f"/>
<rect x="304.5" y="283.4" width="4.2" height="3.6" rx="0.8" fill="url(#rd)"/>
<rect x="310.9" y="282.2" width="1.2" height="16.6" fill="#1f4a7f"/>
<rect x="309.4" y="287.6" width="4.2" height="10.2" rx="0.8" fill="url(#rd)"/>
<rect x="316.6" y="282.0" width="1.2" height="10.0" fill="#1f4a7f"/>
<rect x="315.1" y="282.8" width="4.2" height="8.4" rx="0.8" fill="url(#gr)"/>
<rect x="323.4" y="285.0" width="1.2" height="11.0" fill="#1f4a7f"/>
<rect x="321.9" y="285.8" width="4.2" height="9.6" rx="0.8" fill="url(#rd)"/>
<rect x="328.9" y="299.0" width="1.2" height="16.5" fill="#1f4a7f"/>
<rect x="327.4" y="300.0" width="4.2" height="14.7" rx="0.8" fill="url(#rd)"/>
<rect x="333.9" y="299.6" width="1.2" height="12.2" fill="#1f4a7f"/>
<rect x="332.4" y="302.0" width="4.2" height="7.6" rx="0.8" fill="url(#gr)"/>
<rect x="339.4" y="290.7" width="1.2" height="10.1" fill="#1f4a7f"/>
<rect x="337.9" y="294.6" width="4.2" height="4.2" rx="0.8" fill="url(#gr)"/>
<rect x="345.1" y="282.0" width="1.2" height="13.0" fill="#1f4a7f"/>
<rect x="343.6" y="282.8" width="4.2" height="9.2" rx="0.8" fill="url(#gr)"/>
<rect x="350.6" y="276.0" width="1.2" height="9.0" fill="#a82a4a"/>
<rect x="349.1" y="282.2" width="4.2" height="1.2" fill="#a82a4a"/>
<rect x="356.0" y="273.0" width="1.2" height="12.0" fill="#1f4a7f"/>
<rect x="354.5" y="274.0" width="4.2" height="10.5" rx="0.8" fill="url(#gr)"/>
<rect x="361.2" y="271.0" width="1.2" height="7.0" fill="#1f4a7f"/>
<rect x="359.7" y="274.5" width="4.2" height="2.8" rx="0.8" fill="url(#gr)"/>
<rect x="367.1" y="259.0" width="1.2" height="12.0" fill="#1f4a7f"/>
<rect x="365.6" y="260.2" width="4.2" height="7.6" rx="0.8" fill="url(#gr)"/>
<rect x="373.6" y="256.0" width="1.2" height="6.0" fill="#1f4a7f"/>
<rect x="372.1" y="256.9" width="4.2" height="4.1" rx="0.8" fill="url(#gr)"/>
<rect x="378.3" y="245.0" width="1.2" height="8.5" fill="#1f4f8f"/>
<rect x="376.8" y="250.4" width="4.2" height="1.2" fill="#1f4f8f"/>
<rect x="384.0" y="255.2" width="1.2" height="9.8" fill="#1f4a7f"/>
<rect x="382.5" y="256.9" width="4.2" height="6.7" rx="0.8" fill="url(#rd)"/>
<rect x="389.5" y="262.0" width="1.2" height="12.0" fill="#1f4a7f"/>
<rect x="388.0" y="262.7" width="4.2" height="10.6" rx="0.8" fill="url(#rd)"/>
<rect x="395.0" y="264.5" width="1.2" height="4.9" fill="#1f4a7f"/>
<rect x="393.5" y="265.3" width="4.2" height="2.0" rx="0.8" fill="url(#gr)"/>
<rect x="400.1" y="265.0" width="1.2" height="11.0" fill="#1f4a7f"/>
<rect x="398.6" y="266.0" width="4.2" height="5.0" rx="0.8" fill="url(#rd)"/>
<rect x="405.9" y="260.2" width="1.2" height="13.8" fill="#1f4a7f"/>
<rect x="404.4" y="267.8" width="4.2" height="4.2" rx="0.8" fill="url(#gr)"/>
<rect x="411.4" y="256.0" width="1.2" height="9.6" fill="#1f4a7f"/>
<rect x="409.9" y="256.9" width="4.2" height="7.5" rx="0.8" fill="url(#gr)"/>
<rect x="416.8" y="251.0" width="1.2" height="12.9" fill="#1f4a7f"/>
<rect x="415.3" y="253.9" width="4.2" height="8.8" rx="0.8" fill="url(#gr)"/>
<rect x="422.7" y="256.9" width="1.2" height="5.3" fill="#1f4a7f"/>
<rect x="421.2" y="258.2" width="4.2" height="2.8" rx="0.8" fill="url(#rd)"/>
<rect x="428.4" y="252.2" width="1.2" height="12.2" fill="#1f4a7f"/>
<rect x="426.9" y="256.0" width="4.2" height="6.7" rx="0.8" fill="url(#gr)"/>
<rect x="433.9" y="255.2" width="1.2" height="9.2" fill="#2f8f92"/>
<rect x="432.4" y="258.8" width="4.2" height="1.2" fill="#2f8f92"/>
<rect x="439.4" y="248.7" width="1.2" height="7.3" fill="#1f4a7f"/>
<rect x="437.9" y="252.8" width="4.2" height="2.6" rx="0.8" fill="url(#gr)"/>
<rect x="444.8" y="245.3" width="1.2" height="10.1" fill="#1f4f8f"/>
<rect x="443.3" y="254.0" width="4.2" height="1.4" fill="#1f4f8f"/>
<rect x="450.6" y="242.8" width="1.2" height="14.2" fill="#1f4f8f"/>
<rect x="449.1" y="252.2" width="4.2" height="1.2" fill="#1f4f8f"/>
<rect x="456.2" y="228.5" width="1.2" height="22.2" fill="#1f4a7f"/>
<rect x="454.7" y="229.4" width="4.2" height="19.6" rx="0.8" fill="url(#gr)"/>
<rect x="461.2" y="227.0" width="1.2" height="1.4" fill="#1f4a7f"/>
<rect x="459.7" y="227.0" width="4.2" height="1.4" rx="0.8" fill="url(#rd)"/>
<rect x="466.6" y="224.0" width="1.2" height="7.0" fill="#1f4a7f"/>
<rect x="465.1" y="224.9" width="4.2" height="5.0" rx="0.8" fill="url(#rd)"/>
<rect x="472.9" y="227.6" width="1.2" height="6.8" fill="#2f8f92"/>
<rect x="471.4" y="227.6" width="4.2" height="1.2" fill="#2f8f92"/>
<rect x="478.8" y="227.7" width="1.2" height="15.9" fill="#1f4a7f"/>
<rect x="477.3" y="231.0" width="4.2" height="2.6" rx="0.8" fill="url(#rd)"/>
<rect x="484.4" y="232.7" width="1.2" height="15.1" fill="#1f4a7f"/>
<rect x="482.9" y="235.3" width="4.2" height="9.2" rx="0.8" fill="url(#rd)"/>
<rect x="489.7" y="256.0" width="1.2" height="12.0" fill="#1f4a7f"/>
<rect x="488.2" y="257.0" width="4.2" height="4.2" rx="0.8" fill="url(#gr)"/>
<rect x="495.0" y="250.0" width="1.2" height="20.5" fill="#1f4a7f"/>
<rect x="493.5" y="252.0" width="4.2" height="17.6" rx="0.8" fill="url(#rd)"/>
<rect x="500.9" y="263.0" width="1.2" height="9.0" fill="#1f4a7f"/>
<rect x="499.4" y="263.7" width="4.2" height="6.7" rx="0.8" fill="url(#rd)"/>
<rect x="506.1" y="264.0" width="1.2" height="9.8" fill="#1f4a7f"/>
<rect x="504.6" y="265.0" width="4.2" height="7.0" rx="0.8" fill="url(#gr)"/>
<rect x="511.1" y="262.0" width="1.2" height="11.0" fill="#a82a4a"/>
<rect x="509.6" y="267.4" width="4.2" height="1.2" fill="#a82a4a"/>
<rect x="516.8" y="257.0" width="1.2" height="6.0" fill="#1f4a7f"/>
<rect x="515.3" y="260.4" width="4.2" height="2.0" rx="0.8" fill="url(#gr)"/>
<rect x="523.4" y="253.7" width="1.2" height="8.8" fill="#1f4a7f"/>
<rect x="521.9" y="258.7" width="4.2" height="3.3" rx="0.8" fill="url(#gr)"/>
<rect x="528.2" y="242.3" width="1.2" height="9.2" fill="#1f4a7f"/>
<rect x="526.7" y="247.0" width="4.2" height="3.7" rx="0.8" fill="url(#rd)"/>
<rect x="534.1" y="230.2" width="1.2" height="15.8" fill="#1f4a7f"/>
<rect x="532.6" y="235.0" width="4.2" height="8.6" rx="0.8" fill="url(#gr)"/>
<rect x="539.6" y="237.0" width="1.2" height="4.0" fill="#a82a4a"/>
<rect x="538.1" y="238.4" width="4.2" height="1.2" fill="#a82a4a"/>
<rect x="545.3" y="243.0" width="1.2" height="14.4" fill="#1f4a7f"/>
<rect x="543.8" y="244.0" width="4.2" height="11.4" rx="0.8" fill="url(#rd)"/>
<rect x="550.4" y="247.5" width="1.2" height="17.1" fill="#1f4a7f"/>
<rect x="548.9" y="248.7" width="4.2" height="7.5" rx="0.8" fill="url(#rd)"/>
<rect x="555.8" y="247.0" width="1.2" height="8.0" fill="#1f4a7f"/>
<rect x="554.3" y="248.3" width="4.2" height="5.4" rx="0.8" fill="url(#gr)"/>
<rect x="561.7" y="239.0" width="1.2" height="18.4" fill="#1f4a7f"/>
<rect x="560.2" y="240.3" width="4.2" height="15.9" rx="0.8" fill="url(#rd)"/>
<rect x="567.6" y="252.0" width="1.2" height="29.3" fill="#1f4a7f"/>
<rect x="566.1" y="253.3" width="4.2" height="19.7" rx="0.8" fill="url(#gr)"/>
<rect x="572.9" y="250.3" width="1.2" height="10.9" fill="#1f4a7f"/>
<rect x="571.4" y="253.7" width="4.2" height="4.2" rx="0.8" fill="url(#rd)"/>
<rect x="578.8" y="249.0" width="1.2" height="8.9" fill="#1f4a7f"/>
<rect x="577.3" y="251.2" width="4.2" height="5.8" rx="0.8" fill="url(#gr)"/>
<rect x="584.7" y="250.3" width="1.2" height="12.6" fill="#1f4a7f"/>
<rect x="583.2" y="252.0" width="4.2" height="5.9" rx="0.8" fill="url(#gr)"/>
<rect x="589.7" y="246.0" width="1.2" height="7.5" fill="#1f4a7f"/>
<rect x="588.2" y="247.0" width="4.2" height="5.8" rx="0.8" fill="url(#rd)"/>
<rect x="594.9" y="251.0" width="1.2" height="14.0" fill="#1f4a7f"/>
<rect x="593.4" y="252.0" width="4.2" height="11.7" rx="0.8" fill="url(#rd)"/>
<rect x="600.9" y="254.5" width="1.2" height="17.0" fill="#1f4a7f"/>
<rect x="599.4" y="255.4" width="4.2" height="5.9" rx="0.8" fill="url(#gr)"/>
<rect x="606.4" y="251.4" width="1.2" height="6.4" fill="#1f4f8f"/>
<rect x="604.9" y="256.5" width="4.2" height="1.3" fill="#1f4f8f"/>
<rect x="611.4" y="260.0" width="1.2" height="3.3" fill="#1f4a7f"/>
<rect x="609.9" y="260.0" width="4.2" height="3.3" rx="0.8" fill="url(#rd)"/>
<rect x="617.3" y="268.3" width="1.2" height="8.4" fill="#1f4a7f"/>
<rect x="615.8" y="268.3" width="4.2" height="2.0" rx="0.8" fill="url(#rd)"/>
<rect x="623.3" y="248.8" width="1.2" height="17.7" fill="#1f4a7f"/>
<rect x="621.8" y="254.2" width="4.2" height="11.5" rx="0.8" fill="url(#gr)"/>
<rect x="629.3" y="251.8" width="1.2" height="8.2" fill="#1f4a7f"/>
<rect x="627.8" y="255.8" width="4.2" height="3.0" rx="0.8" fill="url(#gr)"/>
<rect x="634.3" y="241.5" width="1.2" height="10.0" fill="#1f4a7f"/>
<rect x="632.8" y="242.2" width="4.2" height="8.6" rx="0.8" fill="url(#gr)"/>
<rect x="639.9" y="238.5" width="1.2" height="9.3" fill="#1f4a7f"/>
<rect x="638.4" y="239.4" width="4.2" height="2.8" rx="0.8" fill="url(#gr)"/>
<rect x="645.2" y="234.8" width="1.2" height="11.0" fill="#2f8f92"/>
<rect x="643.7" y="237.2" width="4.2" height="1.2" fill="#2f8f92"/>
<rect x="650.8" y="235.5" width="1.2" height="11.3" fill="#1f4a7f"/>
<rect x="649.3" y="236.2" width="4.2" height="8.0" rx="0.8" fill="url(#rd)"/>
<rect x="656.2" y="232.8" width="1.2" height="8.6" fill="#1f4a7f"/>
<rect x="654.7" y="239.8" width="4.2" height="1.6" rx="0.8" fill="url(#rd)"/>
<rect x="661.6" y="236.5" width="1.2" height="9.3" fill="#1f4a7f"/>
<rect x="660.1" y="237.4" width="4.2" height="6.4" rx="0.8" fill="url(#rd)"/>
<rect x="667.6" y="242.0" width="1.2" height="11.4" fill="#1f4a7f"/>
<rect x="666.1" y="242.8" width="4.2" height="6.6" rx="0.8" fill="url(#rd)"/>
<rect x="673.7" y="240.2" width="1.2" height="12.0" fill="#1f4a7f"/>
<rect x="672.2" y="243.8" width="4.2" height="5.6" rx="0.8" fill="url(#gr)"/>
<rect x="679.1" y="248.8" width="1.2" height="10.9" fill="#2f8f92"/>
<rect x="677.6" y="252.8" width="4.2" height="1.2" fill="#2f8f92"/>
<rect x="684.1" y="256.8" width="1.2" height="4.5" fill="#1f4f8f"/>
<rect x="682.6" y="258.2" width="4.2" height="1.2" fill="#1f4f8f"/>
<rect x="689.7" y="253.0" width="1.2" height="19.5" fill="#1f4a7f"/>
<rect x="688.2" y="253.8" width="4.2" height="17.9" rx="0.8" fill="url(#rd)"/>
<rect x="695.4" y="279.0" width="1.2" height="7.0" fill="#1f4a7f"/>
<rect x="693.9" y="279.7" width="4.2" height="5.6" rx="0.8" fill="url(#rd)"/>
<rect x="700.0" y="276.7" width="1.2" height="9.3" fill="#1f4a7f"/>
<rect x="698.5" y="283.3" width="4.2" height="2.7" rx="0.8" fill="url(#rd)"/>
<rect x="706.0" y="289.6" width="1.2" height="8.0" fill="#a82a4a"/>
<rect x="704.5" y="289.6" width="4.2" height="1.6" fill="#a82a4a"/>
<rect x="711.6" y="277.3" width="1.2" height="6.4" fill="#a82a4a"/>
<rect x="710.1" y="277.3" width="4.2" height="1.4" fill="#a82a4a"/>
<rect x="718.0" y="273.7" width="1.2" height="8.3" fill="#1f4a7f"/>
<rect x="716.5" y="275.0" width="4.2" height="3.7" rx="0.8" fill="url(#gr)"/>
<rect x="723.0" y="259.4" width="1.2" height="48.6" fill="#1f4a7f"/>
<rect x="721.5" y="259.4" width="4.2" height="48.6" rx="0.8" fill="url(#gr)"/>
<rect x="728.9" y="246.8" width="1.2" height="30.9" fill="#1f4a7f"/>
<rect x="727.4" y="253.4" width="4.2" height="21.3" rx="0.8" fill="url(#rd)"/>
<rect x="734.9" y="265.7" width="1.2" height="17.6" fill="#1f4a7f"/>
<rect x="733.4" y="269.3" width="4.2" height="4.7" rx="0.8" fill="url(#rd)"/>
<rect x="739.9" y="261.7" width="1.2" height="13.6" fill="#1f4a7f"/>
<rect x="738.4" y="266.0" width="4.2" height="7.7" rx="0.8" fill="url(#rd)"/>
<rect x="744.9" y="269.7" width="1.2" height="11.0" fill="#1f4a7f"/>
<rect x="743.4" y="271.7" width="4.2" height="4.3" rx="0.8" fill="url(#rd)"/>
<rect x="750.9" y="273.0" width="1.2" height="12.3" fill="#1f4a7f"/>
<rect x="749.4" y="273.7" width="4.2" height="9.0" rx="0.8" fill="url(#rd)"/>
<rect x="756.4" y="281.0" width="1.2" height="11.6" fill="#1f4a7f"/>
<rect x="754.9" y="281.7" width="4.2" height="5.0" rx="0.8" fill="url(#gr)"/>
<rect x="761.4" y="277.7" width="1.2" height="18.3" fill="#1f4a7f"/>
<rect x="759.9" y="279.7" width="4.2" height="15.6" rx="0.8" fill="url(#rd)"/>
<rect x="767.6" y="288.0" width="1.2" height="9.8" fill="#2f8f92"/>
<rect x="766.1" y="288.0" width="4.2" height="1.2" fill="#2f8f92"/>
<rect x="773.7" y="275.0" width="1.2" height="7.8" fill="#1f4f8f"/>
<rect x="772.2" y="280.5" width="4.2" height="1.2" fill="#1f4f8f"/>
<rect x="779.0" y="275.0" width="1.2" height="9.5" fill="#1f4a7f"/>
<rect x="777.5" y="277.0" width="4.2" height="5.0" rx="0.8" fill="url(#rd)"/>
<rect x="784.2" y="277.8" width="1.2" height="2.5" fill="#1f4a7f"/>
<rect x="782.7" y="277.8" width="4.2" height="2.5" rx="0.8" fill="url(#rd)"/>
<rect x="789.6" y="273.5" width="1.2" height="9.3" fill="#1f4a7f"/>
<rect x="788.1" y="274.0" width="4.2" height="4.3" rx="0.8" fill="url(#gr)"/>
<rect x="795.1" y="275.5" width="1.2" height="10.7" fill="#1f4a7f"/>
<rect x="793.6" y="276.1" width="4.2" height="7.6" rx="0.8" fill="url(#rd)"/>
<rect x="800.8" y="279.5" width="1.2" height="11.2" fill="#1f4a7f"/>
<rect x="799.3" y="281.2" width="4.2" height="7.5" rx="0.8" fill="url(#gr)"/>
<rect x="806.3" y="273.6" width="1.2" height="9.7" fill="#1f4a7f"/>
<rect x="804.8" y="278.3" width="4.2" height="4.0" rx="0.8" fill="url(#gr)"/>
<rect x="811.4" y="277.3" width="1.2" height="13.4" fill="#1f4a7f"/>
<rect x="809.9" y="281.2" width="4.2" height="6.7" rx="0.8" fill="url(#rd)"/>
<rect x="817.7" y="292.0" width="1.2" height="10.0" fill="#1f4a7f"/>
<rect x="816.2" y="292.0" width="4.2" height="3.0" rx="0.8" fill="url(#rd)"/>
<rect x="823.6" y="277.0" width="1.2" height="23.0" fill="#1f4a7f"/>
<rect x="822.1" y="283.7" width="4.2" height="13.3" rx="0.8" fill="url(#gr)"/>
<rect x="829.3" y="263.0" width="1.2" height="19.5" fill="#1f4a7f"/>
<rect x="827.8" y="263.6" width="4.2" height="18.4" rx="0.8" fill="url(#gr)"/>
<rect x="834.3" y="253.2" width="1.2" height="11.2" fill="#1f4a7f"/>
<rect x="832.8" y="254.9" width="4.2" height="7.0" rx="0.8" fill="url(#rd)"/>
<path d="M109.8,211.7 H119.8 Q124.8,211.7 124.8,216.7 V226.5 Q124.8,231.5 119.8,231.5 H115.6 Q114.2,238.8 112.8,246.0 H111.2 Q109.8,238.8 108.0,230.9 Q104.8,230.0 104.8,226.5 V216.7 Q104.8,211.7 109.8,211.7 Z" fill="#efefe9" stroke="#262626" stroke-width="1" stroke-linejoin="round"/>
<path d="M109.0,231.5 H114.8 Q113.6,238.8 112.3,244.5 H111.7 Q110.4,238.8 109.0,231.5 Z" fill="url(#tail)"/>
<rect x="108.8" y="215.3" width="11.8" height="12.4" fill="#fff01e" stroke="#b5a800" stroke-width="0.9"/>
<text x="111.80" y="224.20" font-size="9.3" fill="#111" font-weight="bold" text-anchor="start" style="font-family:'Liberation Sans',sans-serif" textLength="5.90" lengthAdjust="spacingAndGlyphs" >N</text>
<path d="M132.3,286.3 H142.3 Q147.3,286.3 147.3,291.3 V301.1 Q147.3,306.1 142.3,306.1 H138.1 Q136.5,314.8 135.1,323.5 H133.5 Q132.1,314.8 130.5,305.5 Q127.3,304.6 127.3,301.1 V291.3 Q127.3,286.3 132.3,286.3 Z" fill="#efefe9" stroke="#262626" stroke-width="1" stroke-linejoin="round"/>
<path d="M131.5,306.1 H137.3 Q135.9,314.8 134.6,322.0 H134.0 Q132.7,314.8 131.5,306.1 Z" fill="url(#tail)"/>
<rect x="131.3" y="289.9" width="11.8" height="12.4" fill="#fff01e" stroke="#b5a800" stroke-width="0.9"/>
<text x="134.30" y="298.80" font-size="9.3" fill="#111" font-weight="bold" text-anchor="start" style="font-family:'Liberation Sans',sans-serif" textLength="5.90" lengthAdjust="spacingAndGlyphs" >N</text>
<path d="M154.4,247.8 H164.4 Q169.4,247.8 169.4,252.8 V262.6 Q169.4,267.6 164.4,267.6 H160.2 Q158.2,276.6 156.8,285.5 H155.2 Q153.8,276.6 152.6,267.0 Q149.4,266.1 149.4,262.6 V252.8 Q149.4,247.8 154.4,247.8 Z" fill="#efefe9" stroke="#262626" stroke-width="1" stroke-linejoin="round"/>
<path d="M153.6,267.6 H159.4 Q157.6,276.6 156.3,284.0 H155.7 Q154.4,276.6 153.6,267.6 Z" fill="url(#tail)"/>
<rect x="153.4" y="251.4" width="11.8" height="12.4" fill="#fff01e" stroke="#b5a800" stroke-width="0.9"/>
<text x="156.40" y="260.30" font-size="9.3" fill="#111" font-weight="bold" text-anchor="start" style="font-family:'Liberation Sans',sans-serif" textLength="5.90" lengthAdjust="spacingAndGlyphs" >N</text>
<path d="M165.3,240.6 H175.3 Q180.3,240.6 180.3,245.6 V255.4 Q180.3,260.4 175.3,260.4 H171.1 Q168.3,269.6 166.9,278.8 H165.3 Q163.9,269.6 163.5,259.8 Q160.3,258.9 160.3,255.4 V245.6 Q160.3,240.6 165.3,240.6 Z" fill="#efefe9" stroke="#262626" stroke-width="1" stroke-linejoin="round"/>
<path d="M164.5,260.4 H170.3 Q167.7,269.6 166.4,277.3 H165.8 Q164.5,269.6 164.5,260.4 Z" fill="url(#tail)"/>
<rect x="164.3" y="244.2" width="11.8" height="12.4" fill="#fff01e" stroke="#b5a800" stroke-width="0.9"/>
<text x="167.30" y="253.10" font-size="9.3" fill="#111" font-weight="bold" text-anchor="start" style="font-family:'Liberation Sans',sans-serif" textLength="5.90" lengthAdjust="spacingAndGlyphs" >N</text>
<path d="M176.5,297.5 H186.5 Q191.5,297.5 191.5,302.5 V312.3 Q191.5,317.3 186.5,317.3 H182.3 Q181.4,328.0 180.0,338.6 H178.4 Q177.0,328.0 174.7,316.7 Q171.5,315.8 171.5,312.3 V302.5 Q171.5,297.5 176.5,297.5 Z" fill="#efefe9" stroke="#262626" stroke-width="1" stroke-linejoin="round"/>
<path d="M175.7,317.3 H181.5 Q180.8,328.0 179.5,337.1 H178.9 Q177.6,328.0 175.7,317.3 Z" fill="url(#tail)"/>
<rect x="175.5" y="301.1" width="11.8" height="12.4" fill="#fff01e" stroke="#b5a800" stroke-width="0.9"/>
<text x="178.50" y="310.00" font-size="9.3" fill="#111" font-weight="bold" text-anchor="start" style="font-family:'Liberation Sans',sans-serif" textLength="5.90" lengthAdjust="spacingAndGlyphs" >N</text>
<path d="M209.7,277.4 H219.7 Q224.7,277.4 224.7,282.4 V292.2 Q224.7,297.2 219.7,297.2 H215.5 Q213.1,304.5 211.7,311.8 H210.1 Q208.7,304.5 207.9,296.6 Q204.7,295.7 204.7,292.2 V282.4 Q204.7,277.4 209.7,277.4 Z" fill="#efefe9" stroke="#262626" stroke-width="1" stroke-linejoin="round"/>
<path d="M208.9,297.2 H214.7 Q212.5,304.5 211.2,310.3 H210.6 Q209.3,304.5 208.9,297.2 Z" fill="url(#tail)"/>
<rect x="208.7" y="281.0" width="11.8" height="12.4" fill="#fff01e" stroke="#b5a800" stroke-width="0.9"/>
<text x="211.70" y="289.90" font-size="9.3" fill="#111" font-weight="bold" text-anchor="start" style="font-family:'Liberation Sans',sans-serif" textLength="5.90" lengthAdjust="spacingAndGlyphs" >N</text>
<path d="M232.6,282.4 H242.6 Q247.6,282.4 247.6,287.4 V297.2 Q247.6,302.2 242.6,302.2 H238.4 Q236.2,312.0 234.8,321.8 H233.2 Q231.8,312.0 230.8,301.6 Q227.6,300.7 227.6,297.2 V287.4 Q227.6,282.4 232.6,282.4 Z" fill="#efefe9" stroke="#262626" stroke-width="1" stroke-linejoin="round"/>
<path d="M231.8,302.2 H237.6 Q235.6,312.0 234.3,320.3 H233.7 Q232.4,312.0 231.8,302.2 Z" fill="url(#tail)"/>
<rect x="231.6" y="286.0" width="11.8" height="12.4" fill="#fff01e" stroke="#b5a800" stroke-width="0.9"/>
<text x="234.60" y="294.90" font-size="9.3" fill="#111" font-weight="bold" text-anchor="start" style="font-family:'Liberation Sans',sans-serif" textLength="5.90" lengthAdjust="spacingAndGlyphs" >N</text>
<path d="M259.1,253.2 H269.1 Q274.1,253.2 274.1,258.2 V268.0 Q274.1,273.0 269.1,273.0 H264.9 Q263.2,282.7 261.8,292.4 H260.2 Q258.8,282.7 257.3,272.4 Q254.1,271.5 254.1,268.0 V258.2 Q254.1,253.2 259.1,253.2 Z" fill="#efefe9" stroke="#262626" stroke-width="1" stroke-linejoin="round"/>
<path d="M258.3,273.0 H264.1 Q262.6,282.7 261.3,290.9 H260.7 Q259.4,282.7 258.3,273.0 Z" fill="url(#tail)"/>
<rect x="258.1" y="256.8" width="11.8" height="12.4" fill="#fff01e" stroke="#b5a800" stroke-width="0.9"/>
<text x="261.10" y="265.70" font-size="9.3" fill="#111" font-weight="bold" text-anchor="start" style="font-family:'Liberation Sans',sans-serif" textLength="5.90" lengthAdjust="spacingAndGlyphs" >N</text>
<path d="M271.0,254.4 H281.0 Q286.0,254.4 286.0,259.4 V269.2 Q286.0,274.2 281.0,274.2 H276.8 Q274.5,283.9 273.1,293.6 H271.5 Q270.1,283.9 269.2,273.6 Q266.0,272.7 266.0,269.2 V259.4 Q266.0,254.4 271.0,254.4 Z" fill="#efefe9" stroke="#262626" stroke-width="1" stroke-linejoin="round"/>
<path d="M270.2,274.2 H276.0 Q273.9,283.9 272.6,292.1 H272.0 Q270.7,283.9 270.2,274.2 Z" fill="url(#tail)"/>
<rect x="270.0" y="258.0" width="11.8" height="12.4" fill="#fff01e" stroke="#b5a800" stroke-width="0.9"/>
<text x="273.00" y="266.90" font-size="9.3" fill="#111" font-weight="bold" text-anchor="start" style="font-family:'Liberation Sans',sans-serif" textLength="5.90" lengthAdjust="spacingAndGlyphs" >N</text>
<path d="M282.3,248.2 H292.3 Q297.3,248.2 297.3,253.2 V263.0 Q297.3,268.0 292.3,268.0 H288.1 Q286.2,277.8 284.8,287.6 H283.2 Q281.8,277.8 280.5,267.4 Q277.3,266.5 277.3,263.0 V253.2 Q277.3,248.2 282.3,248.2 Z" fill="#efefe9" stroke="#262626" stroke-width="1" stroke-linejoin="round"/>
<path d="M281.5,268.0 H287.3 Q285.6,277.8 284.3,286.1 H283.7 Q282.4,277.8 281.5,268.0 Z" fill="url(#tail)"/>
<rect x="281.3" y="251.8" width="11.8" height="12.4" fill="#fff01e" stroke="#b5a800" stroke-width="0.9"/>
<text x="284.30" y="260.70" font-size="9.3" fill="#111" font-weight="bold" text-anchor="start" style="font-family:'Liberation Sans',sans-serif" textLength="5.90" lengthAdjust="spacingAndGlyphs" >N</text>
<path d="M304.2,240.0 H314.2 Q319.2,240.0 319.2,245.0 V254.8 Q319.2,259.8 314.2,259.8 H310.0 Q308.3,270.4 306.9,281.0 H305.3 Q303.9,270.4 302.4,259.2 Q299.2,258.3 299.2,254.8 V245.0 Q299.2,240.0 304.2,240.0 Z" fill="#efefe9" stroke="#262626" stroke-width="1" stroke-linejoin="round"/>
<path d="M303.4,259.8 H309.2 Q307.7,270.4 306.4,279.5 H305.8 Q304.5,270.4 303.4,259.8 Z" fill="url(#tail)"/>
<rect x="303.2" y="243.6" width="11.8" height="12.4" fill="#fff01e" stroke="#b5a800" stroke-width="0.9"/>
<text x="306.20" y="252.50" font-size="9.3" fill="#111" font-weight="bold" text-anchor="start" style="font-family:'Liberation Sans',sans-serif" textLength="5.90" lengthAdjust="spacingAndGlyphs" >N</text>
<path d="M327.3,268.3 H337.3 Q342.3,268.3 342.3,273.3 V283.1 Q342.3,288.1 337.3,288.1 H333.1 Q330.8,296.0 329.4,303.8 H327.8 Q326.4,296.0 325.5,287.5 Q322.3,286.6 322.3,283.1 V273.3 Q322.3,268.3 327.3,268.3 Z" fill="#efefe9" stroke="#262626" stroke-width="1" stroke-linejoin="round"/>
<path d="M326.5,288.1 H332.3 Q330.2,296.0 328.9,302.3 H328.3 Q327.0,296.0 326.5,288.1 Z" fill="url(#tail)"/>
<rect x="326.3" y="271.9" width="11.8" height="12.4" fill="#fff01e" stroke="#b5a800" stroke-width="0.9"/>
<text x="329.30" y="280.80" font-size="9.3" fill="#111" font-weight="bold" text-anchor="start" style="font-family:'Liberation Sans',sans-serif" textLength="5.90" lengthAdjust="spacingAndGlyphs" >N</text>
<path d="M348.4,236.4 H358.4 Q363.4,236.4 363.4,241.4 V251.2 Q363.4,256.2 358.4,256.2 H354.2 Q352.6,265.8 351.2,275.3 H349.6 Q348.2,265.8 346.6,255.6 Q343.4,254.7 343.4,251.2 V241.4 Q343.4,236.4 348.4,236.4 Z" fill="#efefe9" stroke="#262626" stroke-width="1" stroke-linejoin="round"/>
<path d="M347.6,256.2 H353.4 Q352.0,265.8 350.7,273.8 H350.1 Q348.8,265.8 347.6,256.2 Z" fill="url(#tail)"/>
<rect x="347.4" y="240.0" width="11.8" height="12.4" fill="#fff01e" stroke="#b5a800" stroke-width="0.9"/>
<text x="350.40" y="248.90" font-size="9.3" fill="#111" font-weight="bold" text-anchor="start" style="font-family:'Liberation Sans',sans-serif" textLength="5.90" lengthAdjust="spacingAndGlyphs" >N</text>
<path d="M360.0,228.4 H370.0 Q375.0,228.4 375.0,233.4 V243.2 Q375.0,248.2 370.0,248.2 H365.8 Q363.5,257.6 362.1,267.0 H360.5 Q359.1,257.6 358.2,247.6 Q355.0,246.7 355.0,243.2 V233.4 Q355.0,228.4 360.0,228.4 Z" fill="#efefe9" stroke="#262626" stroke-width="1" stroke-linejoin="round"/>
<path d="M359.2,248.2 H365.0 Q362.9,257.6 361.6,265.5 H361.0 Q359.7,257.6 359.2,248.2 Z" fill="url(#tail)"/>
<rect x="359.0" y="232.0" width="11.8" height="12.4" fill="#fff01e" stroke="#b5a800" stroke-width="0.9"/>
<text x="362.00" y="240.90" font-size="9.3" fill="#111" font-weight="bold" text-anchor="start" style="font-family:'Liberation Sans',sans-serif" textLength="5.90" lengthAdjust="spacingAndGlyphs" >N</text>
<path d="M370.5,210.5 H380.5 Q385.5,210.5 385.5,215.5 V225.3 Q385.5,230.3 380.5,230.3 H376.3 Q375.2,239.8 373.8,249.3 H372.2 Q370.8,239.8 368.7,229.7 Q365.5,228.8 365.5,225.3 V215.5 Q365.5,210.5 370.5,210.5 Z" fill="#efefe9" stroke="#262626" stroke-width="1" stroke-linejoin="round"/>
<path d="M369.7,230.3 H375.5 Q374.6,239.8 373.3,247.8 H372.7 Q371.4,239.8 369.7,230.3 Z" fill="url(#tail)"/>
<rect x="369.5" y="214.1" width="11.8" height="12.4" fill="#fff01e" stroke="#b5a800" stroke-width="0.9"/>
<text x="372.50" y="223.00" font-size="9.3" fill="#111" font-weight="bold" text-anchor="start" style="font-family:'Liberation Sans',sans-serif" textLength="5.90" lengthAdjust="spacingAndGlyphs" >N</text>
<path d="M393.0,219.7 H403.0 Q408.0,219.7 408.0,224.7 V234.5 Q408.0,239.5 403.0,239.5 H398.8 Q397.0,248.6 395.6,257.7 H394.0 Q392.6,248.6 391.2,238.9 Q388.0,238.0 388.0,234.5 V224.7 Q388.0,219.7 393.0,219.7 Z" fill="#efefe9" stroke="#262626" stroke-width="1" stroke-linejoin="round"/>
<path d="M392.2,239.5 H398.0 Q396.4,248.6 395.1,256.2 H394.5 Q393.2,248.6 392.2,239.5 Z" fill="url(#tail)"/>
<rect x="392.0" y="223.3" width="11.8" height="12.4" fill="#fff01e" stroke="#b5a800" stroke-width="0.9"/>
<text x="395.00" y="232.20" font-size="9.3" fill="#111" font-weight="bold" text-anchor="start" style="font-family:'Liberation Sans',sans-serif" textLength="5.90" lengthAdjust="spacingAndGlyphs" >N</text>
<path d="M426.1,209.1 H436.1 Q441.1,209.1 441.1,214.1 V223.9 Q441.1,228.9 436.1,228.9 H431.9 Q430.2,238.2 428.8,247.6 H427.2 Q425.8,238.2 424.3,228.3 Q421.1,227.4 421.1,223.9 V214.1 Q421.1,209.1 426.1,209.1 Z" fill="#efefe9" stroke="#262626" stroke-width="1" stroke-linejoin="round"/>
<path d="M425.3,228.9 H431.1 Q429.6,238.2 428.3,246.1 H427.7 Q426.4,238.2 425.3,228.9 Z" fill="url(#tail)"/>
<rect x="425.1" y="212.7" width="11.8" height="12.4" fill="#fff01e" stroke="#b5a800" stroke-width="0.9"/>
<text x="428.10" y="221.60" font-size="9.3" fill="#111" font-weight="bold" text-anchor="start" style="font-family:'Liberation Sans',sans-serif" textLength="5.90" lengthAdjust="spacingAndGlyphs" >N</text>
<path d="M443.7,208.4 H453.7 Q458.7,208.4 458.7,213.4 V223.2 Q458.7,228.2 453.7,228.2 H449.5 Q446.9,237.3 445.5,246.4 H443.9 Q442.5,237.3 441.9,227.6 Q438.7,226.7 438.7,223.2 V213.4 Q438.7,208.4 443.7,208.4 Z" fill="#efefe9" stroke="#262626" stroke-width="1" stroke-linejoin="round"/>
<path d="M442.9,228.2 H448.7 Q446.3,237.3 445.0,244.9 H444.4 Q443.1,237.3 442.9,228.2 Z" fill="url(#tail)"/>
<rect x="442.7" y="212.0" width="11.8" height="12.4" fill="#fff01e" stroke="#b5a800" stroke-width="0.9"/>
<text x="445.70" y="220.90" font-size="9.3" fill="#111" font-weight="bold" text-anchor="start" style="font-family:'Liberation Sans',sans-serif" textLength="5.90" lengthAdjust="spacingAndGlyphs" >N</text>
<path d="M448.3,206.4 H458.3 Q463.3,206.4 463.3,211.4 V221.2 Q463.3,226.2 458.3,226.2 H454.1 Q452.9,235.1 451.5,244.0 H449.9 Q448.5,235.1 446.5,225.6 Q443.3,224.7 443.3,221.2 V211.4 Q443.3,206.4 448.3,206.4 Z" fill="#efefe9" stroke="#262626" stroke-width="1" stroke-linejoin="round"/>
<path d="M447.5,226.2 H453.3 Q452.3,235.1 451.0,242.5 H450.4 Q449.1,235.1 447.5,226.2 Z" fill="url(#tail)"/>
<rect x="447.3" y="210.0" width="11.8" height="12.4" fill="#fff01e" stroke="#b5a800" stroke-width="0.9"/>
<text x="450.30" y="218.90" font-size="9.3" fill="#111" font-weight="bold" text-anchor="start" style="font-family:'Liberation Sans',sans-serif" textLength="5.90" lengthAdjust="spacingAndGlyphs" >N</text>
<path d="M488.0,210.3 H498.0 Q503.0,210.3 503.0,215.3 V225.1 Q503.0,230.1 498.0,230.1 H493.8 Q490.9,239.5 489.5,248.8 H487.9 Q486.5,239.5 486.2,229.5 Q483.0,228.6 483.0,225.1 V215.3 Q483.0,210.3 488.0,210.3 Z" fill="#efefe9" stroke="#262626" stroke-width="1" stroke-linejoin="round"/>
<path d="M487.2,230.1 H493.0 Q490.3,239.5 489.0,247.3 H488.4 Q487.1,239.5 487.2,230.1 Z" fill="url(#tail)"/>
<rect x="487.0" y="213.9" width="11.8" height="12.4" fill="#fff01e" stroke="#b5a800" stroke-width="0.9"/>
<text x="490.00" y="222.80" font-size="9.3" fill="#111" font-weight="bold" text-anchor="start" style="font-family:'Liberation Sans',sans-serif" textLength="5.90" lengthAdjust="spacingAndGlyphs" >N</text>
<path d="M510.4,222.7 H520.4 Q525.4,222.7 525.4,227.7 V237.5 Q525.4,242.5 520.4,242.5 H516.2 Q513.4,251.8 512.0,261.2 H510.4 Q509.0,251.8 508.6,241.9 Q505.4,241.0 505.4,237.5 V227.7 Q505.4,222.7 510.4,222.7 Z" fill="#efefe9" stroke="#262626" stroke-width="1" stroke-linejoin="round"/>
<path d="M509.6,242.5 H515.4 Q512.8,251.8 511.5,259.7 H510.9 Q509.6,251.8 509.6,242.5 Z" fill="url(#tail)"/>
<rect x="509.4" y="226.3" width="11.8" height="12.4" fill="#fff01e" stroke="#b5a800" stroke-width="0.9"/>
<text x="512.40" y="235.20" font-size="9.3" fill="#111" font-weight="bold" text-anchor="start" style="font-family:'Liberation Sans',sans-serif" textLength="5.90" lengthAdjust="spacingAndGlyphs" >N</text>
<path d="M532.5,188.4 H542.5 Q547.5,188.4 547.5,193.4 V203.2 Q547.5,208.2 542.5,208.2 H538.3 Q536.0,217.6 534.6,226.9 H533.0 Q531.6,217.6 530.7,207.6 Q527.5,206.7 527.5,203.2 V193.4 Q527.5,188.4 532.5,188.4 Z" fill="#efefe9" stroke="#262626" stroke-width="1" stroke-linejoin="round"/>
<path d="M531.7,208.2 H537.5 Q535.4,217.6 534.1,225.4 H533.5 Q532.2,217.6 531.7,208.2 Z" fill="url(#tail)"/>
<rect x="531.5" y="192.0" width="11.8" height="12.4" fill="#fff01e" stroke="#b5a800" stroke-width="0.9"/>
<text x="534.50" y="200.90" font-size="9.3" fill="#111" font-weight="bold" text-anchor="start" style="font-family:'Liberation Sans',sans-serif" textLength="5.90" lengthAdjust="spacingAndGlyphs" >N</text>
<path d="M543.4,209.3 H553.4 Q558.4,209.3 558.4,214.3 V224.1 Q558.4,229.1 553.4,229.1 H549.2 Q547.4,237.2 546.0,245.3 H544.4 Q543.0,237.2 541.6,228.5 Q538.4,227.6 538.4,224.1 V214.3 Q538.4,209.3 543.4,209.3 Z" fill="#efefe9" stroke="#262626" stroke-width="1" stroke-linejoin="round"/>
<path d="M542.6,229.1 H548.4 Q546.8,237.2 545.5,243.8 H544.9 Q543.6,237.2 542.6,229.1 Z" fill="url(#tail)"/>
<rect x="542.4" y="212.9" width="11.8" height="12.4" fill="#fff01e" stroke="#b5a800" stroke-width="0.9"/>
<text x="545.40" y="221.80" font-size="9.3" fill="#111" font-weight="bold" text-anchor="start" style="font-family:'Liberation Sans',sans-serif" textLength="5.90" lengthAdjust="spacingAndGlyphs" >N</text>
<path d="M565.0,207.6 H575.0 Q580.0,207.6 580.0,212.6 V222.4 Q580.0,227.4 575.0,227.4 H570.8 Q569.5,236.7 568.1,246.0 H566.5 Q565.1,236.7 563.2,226.8 Q560.0,225.9 560.0,222.4 V212.6 Q560.0,207.6 565.0,207.6 Z" fill="#efefe9" stroke="#262626" stroke-width="1" stroke-linejoin="round"/>
<path d="M564.2,227.4 H570.0 Q568.9,236.7 567.6,244.5 H567.0 Q565.7,236.7 564.2,227.4 Z" fill="url(#tail)"/>
<rect x="564.0" y="211.2" width="11.8" height="12.4" fill="#fff01e" stroke="#b5a800" stroke-width="0.9"/>
<text x="567.00" y="220.10" font-size="9.3" fill="#111" font-weight="bold" text-anchor="start" style="font-family:'Liberation Sans',sans-serif" textLength="5.90" lengthAdjust="spacingAndGlyphs" >N</text>
<path d="M594.0,217.7 H604.0 Q609.0,217.7 609.0,222.7 V232.5 Q609.0,237.5 604.0,237.5 H599.8 Q597.2,244.8 595.8,252.0 H594.2 Q592.8,244.8 592.2,236.9 Q589.0,236.0 589.0,232.5 V222.7 Q589.0,217.7 594.0,217.7 Z" fill="#efefe9" stroke="#262626" stroke-width="1" stroke-linejoin="round"/>
<path d="M593.2,237.5 H599.0 Q596.6,244.8 595.3,250.5 H594.7 Q593.4,244.8 593.2,237.5 Z" fill="url(#tail)"/>
<rect x="593.0" y="221.3" width="11.8" height="12.4" fill="#fff01e" stroke="#b5a800" stroke-width="0.9"/>
<text x="596.00" y="230.20" font-size="9.3" fill="#111" font-weight="bold" text-anchor="start" style="font-family:'Liberation Sans',sans-serif" textLength="5.90" lengthAdjust="spacingAndGlyphs" >N</text>
<path d="M615.0,222.9 H625.0 Q630.0,222.9 630.0,227.9 V237.7 Q630.0,242.7 625.0,242.7 H620.8 Q618.2,252.2 616.8,261.7 H615.2 Q613.8,252.2 613.2,242.1 Q610.0,241.2 610.0,237.7 V227.9 Q610.0,222.9 615.0,222.9 Z" fill="#efefe9" stroke="#262626" stroke-width="1" stroke-linejoin="round"/>
<path d="M614.2,242.7 H620.0 Q617.6,252.2 616.3,260.2 H615.7 Q614.4,252.2 614.2,242.7 Z" fill="url(#tail)"/>
<rect x="614.0" y="226.5" width="11.8" height="12.4" fill="#fff01e" stroke="#b5a800" stroke-width="0.9"/>
<text x="617.00" y="235.40" font-size="9.3" fill="#111" font-weight="bold" text-anchor="start" style="font-family:'Liberation Sans',sans-serif" textLength="5.90" lengthAdjust="spacingAndGlyphs" >N</text>
<path d="M621.0,207.5 H631.0 Q636.0,207.5 636.0,212.5 V222.3 Q636.0,227.3 631.0,227.3 H626.8 Q625.1,235.6 623.7,243.8 H622.1 Q620.7,235.6 619.2,226.7 Q616.0,225.8 616.0,222.3 V212.5 Q616.0,207.5 621.0,207.5 Z" fill="#efefe9" stroke="#262626" stroke-width="1" stroke-linejoin="round"/>
<path d="M620.2,227.3 H626.0 Q624.5,235.6 623.2,242.3 H622.6 Q621.3,235.6 620.2,227.3 Z" fill="url(#tail)"/>
<rect x="620.0" y="211.1" width="11.8" height="12.4" fill="#fff01e" stroke="#b5a800" stroke-width="0.9"/>
<text x="623.00" y="220.00" font-size="9.3" fill="#111" font-weight="bold" text-anchor="start" style="font-family:'Liberation Sans',sans-serif" textLength="5.90" lengthAdjust="spacingAndGlyphs" >N</text>
<path d="M637.9,194.4 H647.9 Q652.9,194.4 652.9,199.4 V209.2 Q652.9,214.2 647.9,214.2 H643.7 Q641.1,223.5 639.7,232.8 H638.1 Q636.7,223.5 636.1,213.6 Q632.9,212.7 632.9,209.2 V199.4 Q632.9,194.4 637.9,194.4 Z" fill="#efefe9" stroke="#262626" stroke-width="1" stroke-linejoin="round"/>
<path d="M637.1,214.2 H642.9 Q640.5,223.5 639.2,231.3 H638.6 Q637.3,223.5 637.1,214.2 Z" fill="url(#tail)"/>
<rect x="636.9" y="198.0" width="11.8" height="12.4" fill="#fff01e" stroke="#b5a800" stroke-width="0.9"/>
<text x="639.90" y="206.90" font-size="9.3" fill="#111" font-weight="bold" text-anchor="start" style="font-family:'Liberation Sans',sans-serif" textLength="5.90" lengthAdjust="spacingAndGlyphs" >N</text>
<path d="M677.1,206.0 H687.1 Q692.1,206.0 692.1,211.0 V220.8 Q692.1,225.8 687.1,225.8 H682.9 Q680.3,235.3 678.9,244.8 H677.3 Q675.9,235.3 675.3,225.2 Q672.1,224.3 672.1,220.8 V211.0 Q672.1,206.0 677.1,206.0 Z" fill="#efefe9" stroke="#262626" stroke-width="1" stroke-linejoin="round"/>
<path d="M676.3,225.8 H682.1 Q679.7,235.3 678.4,243.3 H677.8 Q676.5,235.3 676.3,225.8 Z" fill="url(#tail)"/>
<rect x="676.1" y="209.6" width="11.8" height="12.4" fill="#fff01e" stroke="#b5a800" stroke-width="0.9"/>
<text x="679.10" y="218.50" font-size="9.3" fill="#111" font-weight="bold" text-anchor="start" style="font-family:'Liberation Sans',sans-serif" textLength="5.90" lengthAdjust="spacingAndGlyphs" >N</text>
<path d="M715.6,228.3 H725.6 Q730.6,228.3 730.6,233.3 V243.1 Q730.6,248.1 725.6,248.1 H721.4 Q719.8,257.4 718.4,266.7 H716.8 Q715.4,257.4 713.8,247.5 Q710.6,246.6 710.6,243.1 V233.3 Q710.6,228.3 715.6,228.3 Z" fill="#efefe9" stroke="#262626" stroke-width="1" stroke-linejoin="round"/>
<path d="M714.8,248.1 H720.6 Q719.2,257.4 717.9,265.2 H717.3 Q716.0,257.4 714.8,248.1 Z" fill="url(#tail)"/>
<rect x="714.6" y="231.9" width="11.8" height="12.4" fill="#fff01e" stroke="#b5a800" stroke-width="0.9"/>
<text x="717.60" y="240.80" font-size="9.3" fill="#111" font-weight="bold" text-anchor="start" style="font-family:'Liberation Sans',sans-serif" textLength="5.90" lengthAdjust="spacingAndGlyphs" >N</text>
<path d="M744.5,228.9 H754.5 Q759.5,228.9 759.5,233.9 V243.7 Q759.5,248.7 754.5,248.7 H750.3 Q747.1,257.7 745.7,266.7 H744.1 Q742.7,257.7 742.7,248.1 Q739.5,247.2 739.5,243.7 V233.9 Q739.5,228.9 744.5,228.9 Z" fill="#efefe9" stroke="#262626" stroke-width="1" stroke-linejoin="round"/>
<path d="M743.7,248.7 H749.5 Q746.5,257.7 745.2,265.2 H744.6 Q743.3,257.7 743.7,248.7 Z" fill="url(#tail)"/>
<rect x="743.5" y="232.5" width="11.8" height="12.4" fill="#fff01e" stroke="#b5a800" stroke-width="0.9"/>
<text x="746.50" y="241.40" font-size="9.3" fill="#111" font-weight="bold" text-anchor="start" style="font-family:'Liberation Sans',sans-serif" textLength="5.90" lengthAdjust="spacingAndGlyphs" >N</text>
<path d="M793.2,237.6 H803.2 Q808.2,237.6 808.2,242.6 V252.4 Q808.2,257.4 803.2,257.4 H799.0 Q797.1,266.8 795.7,276.1 H794.1 Q792.7,266.8 791.4,256.8 Q788.2,255.9 788.2,252.4 V242.6 Q788.2,237.6 793.2,237.6 Z" fill="#efefe9" stroke="#262626" stroke-width="1" stroke-linejoin="round"/>
<path d="M792.4,257.4 H798.2 Q796.5,266.8 795.2,274.6 H794.6 Q793.3,266.8 792.4,257.4 Z" fill="url(#tail)"/>
<rect x="792.2" y="241.2" width="11.8" height="12.4" fill="#fff01e" stroke="#b5a800" stroke-width="0.9"/>
<text x="795.20" y="250.10" font-size="9.3" fill="#111" font-weight="bold" text-anchor="start" style="font-family:'Liberation Sans',sans-serif" textLength="5.90" lengthAdjust="spacingAndGlyphs" >N</text>
<path d="M815.0,248.5 H825.0 Q830.0,248.5 830.0,253.5 V263.3 Q830.0,268.3 825.0,268.3 H820.8 Q820.0,277.6 818.6,287.0 H817.0 Q815.6,277.6 813.2,267.7 Q810.0,266.8 810.0,263.3 V253.5 Q810.0,248.5 815.0,248.5 Z" fill="#efefe9" stroke="#262626" stroke-width="1" stroke-linejoin="round"/>
<path d="M814.2,268.3 H820.0 Q819.4,277.6 818.1,285.5 H817.5 Q816.2,277.6 814.2,268.3 Z" fill="url(#tail)"/>
<rect x="814.0" y="252.1" width="11.8" height="12.4" fill="#fff01e" stroke="#b5a800" stroke-width="0.9"/>
<text x="817.00" y="261.00" font-size="9.3" fill="#111" font-weight="bold" text-anchor="start" style="font-family:'Liberation Sans',sans-serif" textLength="5.90" lengthAdjust="spacingAndGlyphs" >N</text>
<path d="M112,211.8 L935,237 M112,235.6 L935,313.6 M161,398 L696,141 M112,388.3 L935,388.3" stroke="#f2c84a" stroke-width="1.25" fill="none"/>
<rect x="489.0" y="268.8" width="6" height="6" fill="#f6c22c"/>
<rect x="777.0" y="295.6" width="6" height="6" fill="#f6c22c"/>
</g>
<rect x="451" y="439.3" width="19.5" height="1.8" fill="#1c1c9c"/>
<rect x="480" y="439.3" width="19" height="1.8" fill="#1c1c9c"/>
<rect x="507" y="439.3" width="19.5" height="1.8" fill="#1c1c9c"/>
<g filter="url(#sh)"><rect x="43.5" y="444.8" width="893.5" height="137" fill="url(#panel)" stroke="#b4b4b4" stroke-width="1"/></g>
<rect x="112" y="473" width="823" height="100.5" fill="#ffffff"/>
<rect x="145" y="473" width="30.0" height="100.5" fill="#f8f8f9"/>
<rect x="201.5" y="473" width="28.0" height="100.5" fill="#f8f8f9"/>
<rect x="257" y="473" width="28.5" height="100.5" fill="#f8f8f9"/>
<rect x="312.5" y="473" width="27.9" height="100.5" fill="#f8f8f9"/>
<rect x="368.3" y="473" width="27.7" height="100.5" fill="#f8f8f9"/>
<rect x="424.5" y="473" width="27.1" height="100.5" fill="#f8f8f9"/>
<rect x="480.4" y="473" width="26.6" height="100.5" fill="#f8f8f9"/>
<rect x="535.5" y="473" width="27.1" height="100.5" fill="#f8f8f9"/>
<rect x="591.3" y="473" width="27.3" height="100.5" fill="#f8f8f9"/>
<rect x="646.6" y="473" width="27.4" height="100.5" fill="#f8f8f9"/>
<rect x="701.6" y="473" width="27.4" height="100.5" fill="#f8f8f9"/>
<rect x="757.2" y="473" width="27.5" height="100.5" fill="#f8f8f9"/>
<rect x="812.2" y="473" width="28.1" height="100.5" fill="#f8f8f9"/>
<rect x="879.3" y="473" width="38.2" height="100.5" fill="#f8f8f9"/>
<rect x="99" y="471.68" width="8" height="1" fill="#d9dee6"/>
<text x="0.00" y="0.00" font-size="10.4" fill="#333" font-weight="normal" text-anchor="end" style="font-family:'Liberation Sans',sans-serif"  transform="translate(95.00,475.78) scale(0.9,1)">50</text>
<rect x="99" y="491.81" width="836" height="1" fill="#d9dee6"/>
<text x="0.00" y="0.00" font-size="10.4" fill="#333" font-weight="normal" text-anchor="end" style="font-family:'Liberation Sans',sans-serif"  transform="translate(95.00,495.91) scale(0.9,1)">30</text>
<rect x="99" y="511.93" width="836" height="1" fill="#d9dee6"/>
<text x="0.00" y="0.00" font-size="10.4" fill="#333" font-weight="normal" text-anchor="end" style="font-family:'Liberation Sans',sans-serif"  transform="translate(95.00,516.03) scale(0.9,1)">10</text>
<rect x="99" y="532.07" width="836" height="1" fill="#d9dee6"/>
<text x="0.00" y="0.00" font-size="10.4" fill="#333" font-weight="normal" text-anchor="end" style="font-family:'Liberation Sans',sans-serif"  transform="translate(95.00,536.17) scale(0.9,1)">-10</text>
<rect x="99" y="552.20" width="836" height="1" fill="#d9dee6"/>
<text x="0.00" y="0.00" font-size="10.4" fill="#333" font-weight="normal" text-anchor="end" style="font-family:'Liberation Sans',sans-serif"  transform="translate(95.00,556.30) scale(0.9,1)">-30</text>
<rect x="99" y="572.33" width="8" height="1" fill="#d9dee6"/>
<text x="0.00" y="0.00" font-size="10.4" fill="#333" font-weight="normal" text-anchor="end" style="font-family:'Liberation Sans',sans-serif"  transform="translate(95.00,576.43) scale(0.9,1)">-50</text>
<rect x="112" y="522.00" width="823" height="1" fill="#aebbc8"/>
<rect x="107" y="473" width="5" height="100.5" fill="#b6c8da"/>
<rect x="107" y="572.33" width="5" height="1" fill="#eef2f6"/>
<rect x="107" y="562.26" width="5" height="1" fill="#eef2f6"/>
<rect x="107" y="552.20" width="5" height="1" fill="#eef2f6"/>
<rect x="107" y="542.13" width="5" height="1" fill="#eef2f6"/>
<rect x="107" y="532.07" width="5" height="1" fill="#eef2f6"/>
<rect x="107" y="522.00" width="5" height="1" fill="#eef2f6"/>
<rect x="107" y="511.93" width="5" height="1" fill="#eef2f6"/>
<rect x="107" y="501.87" width="5" height="1" fill="#eef2f6"/>
<rect x="107" y="491.81" width="5" height="1" fill="#eef2f6"/>
<rect x="107" y="481.74" width="5" height="1" fill="#eef2f6"/>
<rect x="107" y="471.68" width="5" height="1" fill="#eef2f6"/>
<rect x="107" y="573" width="828" height="1" fill="#c3cfdc"/>
<rect x="144.5" y="573.5" width="1" height="4" fill="#b9c6d4"/>
<rect x="174.5" y="573.5" width="1" height="4" fill="#b9c6d4"/>
<rect x="201.0" y="573.5" width="1" height="4" fill="#b9c6d4"/>
<rect x="229.0" y="573.5" width="1" height="4" fill="#b9c6d4"/>
<rect x="256.5" y="573.5" width="1" height="4" fill="#b9c6d4"/>
<rect x="285.0" y="573.5" width="1" height="4" fill="#b9c6d4"/>
<rect x="312.0" y="573.5" width="1" height="4" fill="#b9c6d4"/>
<rect x="339.9" y="573.5" width="1" height="4" fill="#b9c6d4"/>
<rect x="367.8" y="573.5" width="1" height="4" fill="#b9c6d4"/>
<rect x="395.5" y="573.5" width="1" height="4" fill="#b9c6d4"/>
<rect x="424.0" y="573.5" width="1" height="4" fill="#b9c6d4"/>
<rect x="451.1" y="573.5" width="1" height="4" fill="#b9c6d4"/>
<rect x="479.9" y="573.5" width="1" height="4" fill="#b9c6d4"/>
<rect x="506.5" y="573.5" width="1" height="4" fill="#b9c6d4"/>
<rect x="535.0" y="573.5" width="1" height="4" fill="#b9c6d4"/>
<rect x="562.1" y="573.5" width="1" height="4" fill="#b9c6d4"/>
<rect x="618.1" y="573.5" width="1" height="4" fill="#b9c6d4"/>
<rect x="646.1" y="573.5" width="1" height="4" fill="#b9c6d4"/>
<rect x="673.5" y="573.5" width="1" height="4" fill="#b9c6d4"/>
<rect x="701.1" y="573.5" width="1" height="4" fill="#b9c6d4"/>
<rect x="728.5" y="573.5" width="1" height="4" fill="#b9c6d4"/>
<rect x="756.7" y="573.5" width="1" height="4" fill="#b9c6d4"/>
<rect x="811.7" y="573.5" width="1" height="4" fill="#b9c6d4"/>
<rect x="839.8" y="573.5" width="1" height="4" fill="#b9c6d4"/>
<rect x="878.8" y="573.5" width="1" height="4" fill="#b9c6d4"/>
<rect x="917.0" y="573.5" width="1" height="4" fill="#b9c6d4"/>
<g clip-path="url(#macdclip)">
<polyline points="112.0,486.0 117.0,487.3 123.6,496.6 131.6,515.2 140.9,533.8 144.9,541.3 150.8,545.3 158.2,538.6 167.5,529.9 173.4,524.0 176.8,531.2 182.1,547.1 184.8,557.8 190.1,566.3 195.4,566.3 204.8,557.8 211.4,554.6 216.7,556.5 223.4,561.8 228.7,563.6 232.7,561.2 238.0,553.8 248.7,539.2 259.3,527.2 269.9,518.7 285.9,509.4 296.5,502.5 307.2,498.7 312.5,501.1 317.8,499.3 323.1,501.4 328.5,506.7 335.1,510.4 340.4,509.9 349.7,505.4 360.4,499.3 371.0,490.0 375.0,487.3 379.3,483.8 386.0,484.6 392.6,487.3 401.9,490.8 412.6,489.2 423.2,488.6 436.5,490.0 449.8,490.5 457.8,483.3 465.8,479.3 476.4,477.4 481.7,479.3 488.4,486.0 497.7,499.3 505.7,508.6 513.7,513.9 524.3,515.8 529.6,514.4 534.9,509.4 540.3,506.7 546.9,509.9 556.2,512.0 566.9,513.9 574.8,516.6 588.1,517.1 596.1,520.0 604.1,521.1 612.1,523.7 617.4,526.4 622.7,525.9 630.7,524.5 636.0,519.2 647.2,512.8 657.9,510.3 668.6,511.8 677.8,512.8 685.4,517.3 693.0,526.5 700.7,537.2 708.3,544.2 719.0,544.8 723.6,541.2 738.8,541.2 757.2,542.4 763.3,547.0 770.9,547.0 781.6,544.2 790.8,540.3 799.9,539.6 807.6,537.8 816.7,540.9 824.4,539.6 829.0,533.5 835.0,528.0" fill="none" stroke="#44e23f" stroke-width="1.05" stroke-linejoin="round" stroke-linecap="round" />
<polyline points="112.0,490.8 119.6,488.6 128.9,491.3 138.3,497.9 150.2,509.9 160.9,521.9 168.8,529.1 179.5,533.8 190.1,541.8 200.8,546.6 211.4,550.6 222.1,557.3 228.7,560.5 235.4,561.2 246.0,557.8 256.6,552.5 267.3,545.3 277.9,535.2 291.2,521.9 304.5,511.2 317.8,505.1 328.5,503.3 339.1,503.3 352.4,504.6 363.0,504.1 375.3,501.9 386.0,496.0 396.6,491.8 407.2,489.2 419.2,487.3 433.8,489.2 449.8,490.0 463.1,487.3 476.4,484.6 487.0,483.3 497.7,485.2 508.3,490.0 519.0,496.6 529.6,504.6 540.3,508.6 550.9,511.2 564.2,512.0 577.5,512.0 588.1,513.4 601.4,516.6 614.7,519.2 628.0,521.3 640.0,522.1 650.3,520.4 665.5,516.4 680.8,513.4 690.0,513.7 697.6,517.3 708.3,524.4 720.5,532.6 732.7,538.7 745.0,541.8 763.3,542.7 781.6,543.9 796.9,543.9 812.2,542.4 824.4,540.3 835.0,537.8" fill="none" stroke="#a51c22" stroke-width="1.05" stroke-linejoin="round" stroke-linecap="round" />
</g>
<rect x="47.2" y="448.8" width="171.4" height="14.6" fill="#fdfdfd" stroke="#7d7d7d" stroke-width="1"/>
<rect x="49.4" y="452" width="8.2" height="9" fill="#22ee22" stroke="#19b519" stroke-width="0.8"/>
<rect x="89.8" y="452" width="8.2" height="9" fill="#b90d12" stroke="#8a0a0d" stroke-width="0.8"/>
<text x="61.00" y="460.30" font-size="10.4" fill="#111" font-weight="normal" text-anchor="start" style="font-family:'Liberation Sans',sans-serif" textLength="25.00" lengthAdjust="spacingAndGlyphs" >MACD</text>
<text x="101.00" y="460.30" font-size="10.4" fill="#111" font-weight="normal" text-anchor="start" style="font-family:'Liberation Sans',sans-serif" textLength="69.00" lengthAdjust="spacingAndGlyphs" >MACD Signaallijn</text>
<text x="177.00" y="460.30" font-size="10.4" fill="#111" font-weight="normal" text-anchor="start" style="font-family:'Liberation Sans',sans-serif" textLength="38.00" lengthAdjust="spacingAndGlyphs" >[12/26/9]</text>
<text x="698.60" y="460.00" font-size="11" fill="#2fd62f" font-weight="bold" text-anchor="start" style="font-family:'Liberation Sans',sans-serif" textLength="30.80" lengthAdjust="spacingAndGlyphs" >MACD</text>
<text x="734.80" y="460.00" font-size="11" fill="#111" font-weight="bold" text-anchor="start" style="font-family:'Liberation Sans',sans-serif" textLength="28.40" lengthAdjust="spacingAndGlyphs" stroke="#111" stroke-width="0.25">44,00</text>
<text x="787.40" y="460.00" font-size="11" fill="#b01818" font-weight="bold" text-anchor="start" style="font-family:'Liberation Sans',sans-serif" textLength="83.60" lengthAdjust="spacingAndGlyphs" >MACD Signaallijn</text>
<text x="876.80" y="460.00" font-size="11" fill="#111" font-weight="bold" text-anchor="start" style="font-family:'Liberation Sans',sans-serif" textLength="26.20" lengthAdjust="spacingAndGlyphs" stroke="#111" stroke-width="0.25">37,30</text>
<rect x="917.6" y="448.6" width="15.2" height="14.8" fill="#ffffff" stroke="#222" stroke-width="1"/>
<path d="M921,451.8 L929.4,460.4 M929.4,451.8 L921,460.4" stroke="#111" stroke-width="1.3"/>
<rect x="49.8" y="598.6" width="11.6" height="13.2" fill="url(#btn)" stroke="#7d7d7d" stroke-width="1"/>
<path d="M52.599999999999994,604.8 L54.8,608.6 L59.4,600.6" fill="none" stroke="#111" stroke-width="1.5"/>
<rect x="133.4" y="598.6" width="11.6" height="13.2" fill="url(#btn)" stroke="#7d7d7d" stroke-width="1"/>
<path d="M136.20000000000002,604.8 L138.4,608.6 L143.0,600.6" fill="none" stroke="#111" stroke-width="1.5"/>
<rect x="239.7" y="598.6" width="11.6" height="13.2" fill="url(#btn)" stroke="#7d7d7d" stroke-width="1"/>
<path d="M242.5,604.8 L244.7,608.6 L249.29999999999998,600.6" fill="none" stroke="#111" stroke-width="1.5"/>
<rect x="64.8" y="598.6" width="11.6" height="13.2" fill="#fff01e" stroke="#c6b800" stroke-width="1"/>
<text x="70.60" y="608.80" font-size="9" fill="#111" font-weight="bold" text-anchor="middle" style="font-family:'Liberation Sans',sans-serif" >N</text>
<rect x="148.6" y="598.6" width="12" height="13.2" fill="#3fe23f" stroke="#1fa81f" stroke-width="1"/>
<text x="154.60" y="608.80" font-size="9.4" fill="#0f6a0f" font-weight="normal" text-anchor="middle" style="font-family:'Liberation Sans',sans-serif" >D</text>
<rect x="254.2" y="598.6" width="12" height="13.2" fill="#d33b2c" stroke="#5f7a3a" stroke-width="1"/>
<text x="260.20" y="608.80" font-size="9.4" fill="#5a0a0a" font-weight="bold" text-anchor="middle" style="font-family:'Liberation Sans',sans-serif" >S</text>
<text x="79.40" y="610.20" font-size="13.2" fill="#000" font-weight="bold" text-anchor="start" style="font-family:'Liberation Sans',sans-serif" textLength="41.90" lengthAdjust="spacingAndGlyphs" stroke="#000" stroke-width="0.3">Nieuws</text>
<text x="162.50" y="610.20" font-size="13.2" fill="#000" font-weight="bold" text-anchor="start" style="font-family:'Liberation Sans',sans-serif" textLength="64.60" lengthAdjust="spacingAndGlyphs" stroke="#000" stroke-width="0.3">Dividenden</text>
<text x="268.00" y="610.20" font-size="13.2" fill="#000" font-weight="bold" text-anchor="start" style="font-family:'Liberation Sans',sans-serif" textLength="51.30" lengthAdjust="spacingAndGlyphs" stroke="#000" stroke-width="0.3">Splitsing</text>
<text x="484.80" y="610.20" font-size="13.2" fill="#000" font-weight="bold" text-anchor="start" style="font-family:'Liberation Sans',sans-serif" textLength="47.20" lengthAdjust="spacingAndGlyphs" stroke="#000" stroke-width="0.3">Periode:</text>
<rect x="536.3" y="597" width="145.5" height="18.2" fill="#ffffff" stroke="#c4c4c4" stroke-width="1"/>
<text x="540.00" y="609.60" font-size="10.4" fill="#111" font-weight="normal" text-anchor="start" style="font-family:'Liberation Sans',sans-serif" textLength="99.20" lengthAdjust="spacingAndGlyphs" >8/06/2016 - 7/12/2016</text>
<rect x="694.0" y="597" width="25.9" height="18.2" fill="url(#btn)" stroke="#a9a9a9" stroke-width="1"/>
<text x="706.95" y="610.00" font-size="10.8" fill="#222" font-weight="normal" text-anchor="middle" style="font-family:'Liberation Sans',sans-serif" >3u</text>
<rect x="720.9" y="597" width="26.1" height="18.2" fill="url(#btn)" stroke="#a9a9a9" stroke-width="1"/>
<text x="733.95" y="610.00" font-size="10.8" fill="#222" font-weight="normal" text-anchor="middle" style="font-family:'Liberation Sans',sans-serif" >6u</text>
<rect x="748.0" y="597" width="26.5" height="18.2" fill="url(#btn)" stroke="#a9a9a9" stroke-width="1"/>
<text x="761.25" y="610.00" font-size="10.8" fill="#222" font-weight="normal" text-anchor="middle" style="font-family:'Liberation Sans',sans-serif" >1d</text>
<rect x="775.5" y="597" width="26.7" height="18.2" fill="url(#btn)" stroke="#a9a9a9" stroke-width="1"/>
<text x="788.85" y="610.00" font-size="10.8" fill="#222" font-weight="normal" text-anchor="middle" style="font-family:'Liberation Sans',sans-serif" >1W</text>
<rect x="803.2" y="597" width="26.3" height="18.2" fill="url(#btn)" stroke="#a9a9a9" stroke-width="1"/>
<text x="816.35" y="610.00" font-size="10.8" fill="#222" font-weight="normal" text-anchor="middle" style="font-family:'Liberation Sans',sans-serif" >1M</text>
<rect x="830.5" y="597" width="25.4" height="18.2" fill="url(#btn)" stroke="#a9a9a9" stroke-width="1"/>
<text x="843.20" y="610.00" font-size="10.8" fill="#222" font-weight="normal" text-anchor="middle" style="font-family:'Liberation Sans',sans-serif" >3M</text>
<rect x="856.9" y="597" width="26.6" height="18.2" fill="#d3dae4" stroke="#44618f" stroke-width="1"/>
<text x="870.20" y="610.00" font-size="10.8" fill="#222" font-weight="normal" text-anchor="middle" style="font-family:'Liberation Sans',sans-serif" >6M</text>
<rect x="884.5" y="597" width="26.0" height="18.2" fill="url(#btn)" stroke="#a9a9a9" stroke-width="1"/>
<text x="897.50" y="610.00" font-size="10.8" fill="#222" font-weight="normal" text-anchor="middle" style="font-family:'Liberation Sans',sans-serif" >1J</text>
<rect x="911.5" y="597" width="16.3" height="18.2" fill="#bcc6d3" stroke="#9aa3b0" stroke-width="1"/>
<text x="919.60" y="610.00" font-size="11.5" fill="#c0283a" font-weight="normal" text-anchor="middle" style="font-family:'Liberation Sans',sans-serif" >&gt;</text>
</svg></body></html>
